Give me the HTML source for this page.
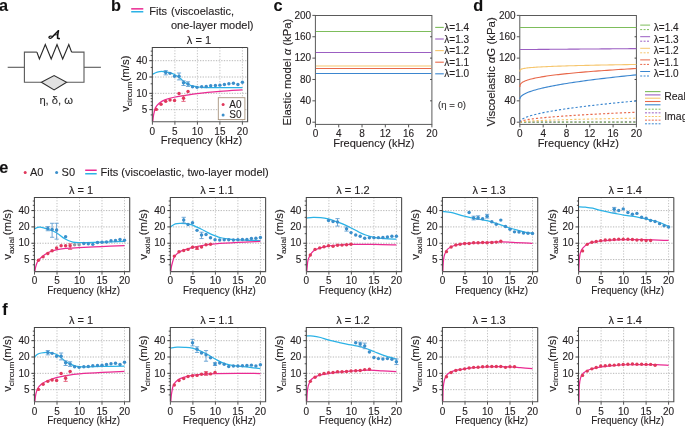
<!DOCTYPE html>
<html><head><meta charset="utf-8"><style>
html,body{margin:0;padding:0;background:#fff;}
body{width:685px;height:426px;overflow:hidden;}
svg{display:block;will-change:transform;}
text{stroke:#231f20;stroke-width:0.12px;stroke-linejoin:round;}
</style></head><body>
<svg width="685" height="426" viewBox="0 0 685 426">
<rect width="685" height="426" fill="#fff"/>
<text x="-0.90" y="11.10" text-anchor="start" fill="#111" style="font-size:16.3px;font-family:'Liberation Sans', sans-serif;font-weight:bold;" >a</text>
<text x="111.00" y="11.10" text-anchor="start" fill="#111" style="font-size:16.3px;font-family:'Liberation Sans', sans-serif;font-weight:bold;" >b</text>
<text x="273.50" y="11.20" text-anchor="start" fill="#111" style="font-size:16.3px;font-family:'Liberation Sans', sans-serif;font-weight:bold;" >c</text>
<text x="473.30" y="11.20" text-anchor="start" fill="#111" style="font-size:16.3px;font-family:'Liberation Sans', sans-serif;font-weight:bold;" >d</text>
<text x="-0.70" y="173.40" text-anchor="start" fill="#111" style="font-size:16.3px;font-family:'Liberation Sans', sans-serif;font-weight:bold;" >e</text>
<text x="2.30" y="315.10" text-anchor="start" fill="#111" style="font-size:16.3px;font-family:'Liberation Sans', sans-serif;font-weight:bold;" >f</text>
<polyline points="7.7,67.3 24.4,67.3" fill="none" stroke="#595959" stroke-width="1.1"/>
<polyline points="36.9,52.1 24.4,52.1 24.4,82.3 41.4,82.3" fill="none" stroke="#595959" stroke-width="1.1"/>
<polyline points="71.6,52.1 84.0,52.1 84.0,82.3 66.6,82.3" fill="none" stroke="#595959" stroke-width="1.1"/>
<polyline points="84.0,67.3 100.9,67.3" fill="none" stroke="#595959" stroke-width="1.1"/>
<polyline points="36.9,52.1 39.4,58.9 45.3,44.6 51.2,58.9 57.0,44.6 62.7,58.9 68.8,44.6 71.6,52.1" fill="none" stroke="#2a2a2a" stroke-width="1.15" stroke-linejoin="miter"/>
<polygon points="41.4,82.3 54.1,75.6 66.6,82.3 54.1,89.9" fill="#e2e2e2" stroke="#2f2f2f" stroke-width="1.1"/>
<g fill="none" stroke="#111" stroke-linecap="round"><path d="M52.6,36.6 C54.5,35 56.5,32.2 58.4,30.9" stroke-width="1.5"/><path d="M58.4,30.9 C57.8,33.5 57.3,36 57.6,38.2 L59.2,38.6" stroke-width="1.6"/><path d="M52.6,36.6 C51.5,35.7 49.2,35.8 48.9,37.2 C48.7,38.6 51.6,38.9 52.6,36.6" stroke-width="1.2"/><path d="M54.6,34.9 L57.7,34.7" stroke-width="0.9"/></g>
<text x="56.20" y="104.40" text-anchor="middle" fill="#333" style="font-size:11.2px;font-family:'Liberation Sans', sans-serif;" >η, δ, ω</text>
<rect x="131.2" y="8.1" width="12.1" height="1.5" fill="#ea2a92"/>
<rect x="131.2" y="11.0" width="12.1" height="1.5" fill="#2bb2e6"/>
<text x="149.30" y="14.90" text-anchor="start" fill="#231f20" style="font-size:11px;font-family:'Liberation Sans', sans-serif;" >Fits</text>
<text x="171.00" y="14.90" text-anchor="start" fill="#231f20" style="font-size:11px;font-family:'Liberation Sans', sans-serif;" >(viscoelastic,</text>
<text x="171.00" y="28.60" text-anchor="start" fill="#231f20" style="font-size:11px;font-family:'Liberation Sans', sans-serif;" >one-layer model)</text>
<line x1="152.30" y1="109.67" x2="247.60" y2="109.67" stroke="#b0b0b0" stroke-width="0.9" stroke-dasharray="1.3 1.35"/>
<line x1="152.30" y1="93.34" x2="247.60" y2="93.34" stroke="#b0b0b0" stroke-width="0.9" stroke-dasharray="1.3 1.35"/>
<line x1="152.30" y1="77.01" x2="247.60" y2="77.01" stroke="#b0b0b0" stroke-width="0.9" stroke-dasharray="1.3 1.35"/>
<line x1="152.30" y1="60.68" x2="247.60" y2="60.68" stroke="#b0b0b0" stroke-width="0.9" stroke-dasharray="1.3 1.35"/>
<line x1="174.90" y1="47.50" x2="174.90" y2="121.70" stroke="#bababa" stroke-width="0.9" stroke-dasharray="1.2 1.6"/>
<line x1="197.40" y1="47.50" x2="197.40" y2="121.70" stroke="#bababa" stroke-width="0.9" stroke-dasharray="1.2 1.6"/>
<line x1="219.90" y1="47.50" x2="219.90" y2="121.70" stroke="#bababa" stroke-width="0.9" stroke-dasharray="1.2 1.6"/>
<line x1="242.40" y1="47.50" x2="242.40" y2="121.70" stroke="#bababa" stroke-width="0.9" stroke-dasharray="1.2 1.6"/>
<path d="M152.40,74.30 C153.21,73.93 155.53,72.53 157.28,72.07 C159.03,71.60 161.03,71.44 162.90,71.51 C164.78,71.57 166.65,71.97 168.53,72.44 C170.40,72.91 172.28,73.37 174.15,74.30 C176.03,75.24 177.90,76.64 179.78,78.04 C181.65,79.44 183.53,81.46 185.40,82.70 C187.28,83.95 189.06,84.82 191.03,85.50 C192.99,86.19 195.03,86.47 197.21,86.81 C199.40,87.15 200.37,87.43 204.15,87.55 C207.93,87.68 213.53,87.55 219.90,87.55 C226.28,87.55 238.65,87.55 242.40,87.55" fill="none" stroke="#2bb2e6" stroke-width="1.25"/>
<path d="M152.78,121.52 C152.84,120.96 152.99,119.34 153.15,118.16 C153.31,116.98 153.34,116.14 153.71,114.43 C154.09,112.71 154.49,109.76 155.40,107.89 C156.31,106.03 157.59,104.57 159.15,103.23 C160.71,101.89 162.28,100.87 164.78,99.87 C167.28,98.87 170.71,98.00 174.15,97.26 C177.59,96.51 181.56,96.01 185.40,95.39 C189.24,94.77 191.46,94.21 197.21,93.53 C202.96,92.84 212.37,91.91 219.90,91.29 C227.43,90.66 238.65,90.04 242.40,89.79" fill="none" stroke="#ea2a92" stroke-width="1.25"/>
<line x1="165.71" y1="70.57" x2="165.71" y2="74.86" stroke="#5a9bd0" stroke-width="0.85" />
<line x1="163.61" y1="70.57" x2="167.81" y2="70.57" stroke="#5a9bd0" stroke-width="0.85" />
<line x1="163.61" y1="74.86" x2="167.81" y2="74.86" stroke="#5a9bd0" stroke-width="0.85" />
<line x1="179.03" y1="73.00" x2="179.03" y2="79.90" stroke="#5a9bd0" stroke-width="0.85" />
<line x1="176.93" y1="73.00" x2="181.12" y2="73.00" stroke="#5a9bd0" stroke-width="0.85" />
<line x1="176.93" y1="79.90" x2="181.12" y2="79.90" stroke="#5a9bd0" stroke-width="0.85" />
<line x1="183.53" y1="80.84" x2="183.53" y2="85.50" stroke="#5a9bd0" stroke-width="0.85" />
<line x1="181.43" y1="80.84" x2="185.62" y2="80.84" stroke="#5a9bd0" stroke-width="0.85" />
<line x1="181.43" y1="85.50" x2="185.62" y2="85.50" stroke="#5a9bd0" stroke-width="0.85" />
<line x1="188.03" y1="81.77" x2="188.03" y2="86.43" stroke="#5a9bd0" stroke-width="0.85" />
<line x1="185.93" y1="81.77" x2="190.12" y2="81.77" stroke="#5a9bd0" stroke-width="0.85" />
<line x1="185.93" y1="86.43" x2="190.12" y2="86.43" stroke="#5a9bd0" stroke-width="0.85" />
<line x1="183.53" y1="95.76" x2="183.53" y2="101.36" stroke="#e2506e" stroke-width="0.85" />
<line x1="181.43" y1="95.76" x2="185.62" y2="95.76" stroke="#e2506e" stroke-width="0.85" />
<line x1="181.43" y1="101.36" x2="185.62" y2="101.36" stroke="#e2506e" stroke-width="0.85" />
<circle cx="165.71" cy="72.44" r="1.72" fill="#3b8fcb"/>
<circle cx="170.03" cy="73.37" r="1.72" fill="#3b8fcb"/>
<circle cx="174.53" cy="76.17" r="1.72" fill="#3b8fcb"/>
<circle cx="179.03" cy="76.17" r="1.72" fill="#3b8fcb"/>
<circle cx="183.53" cy="82.70" r="1.72" fill="#3b8fcb"/>
<circle cx="188.03" cy="84.01" r="1.72" fill="#3b8fcb"/>
<circle cx="192.53" cy="86.81" r="1.72" fill="#3b8fcb"/>
<circle cx="197.03" cy="87.37" r="1.72" fill="#3b8fcb"/>
<circle cx="201.71" cy="86.81" r="1.72" fill="#3b8fcb"/>
<circle cx="206.21" cy="86.43" r="1.72" fill="#3b8fcb"/>
<circle cx="210.71" cy="85.69" r="1.72" fill="#3b8fcb"/>
<circle cx="215.40" cy="85.50" r="1.72" fill="#3b8fcb"/>
<circle cx="219.90" cy="85.13" r="1.72" fill="#3b8fcb"/>
<circle cx="224.40" cy="84.57" r="1.72" fill="#3b8fcb"/>
<circle cx="228.90" cy="83.82" r="1.72" fill="#3b8fcb"/>
<circle cx="233.40" cy="83.26" r="1.72" fill="#3b8fcb"/>
<circle cx="237.90" cy="84.57" r="1.72" fill="#3b8fcb"/>
<circle cx="242.40" cy="82.33" r="1.72" fill="#3b8fcb"/>
<circle cx="156.34" cy="109.39" r="1.72" fill="#e0385c"/>
<circle cx="161.03" cy="104.16" r="1.72" fill="#e0385c"/>
<circle cx="165.71" cy="101.36" r="1.72" fill="#e0385c"/>
<circle cx="170.03" cy="100.06" r="1.72" fill="#e0385c"/>
<circle cx="174.53" cy="100.43" r="1.72" fill="#e0385c"/>
<circle cx="179.03" cy="93.53" r="1.72" fill="#e0385c"/>
<circle cx="183.53" cy="98.19" r="1.72" fill="#e0385c"/>
<circle cx="188.03" cy="91.47" r="1.72" fill="#e0385c"/>
<path d="M152.30,121.70 L152.30,47.50 L247.60,47.50" fill="none" stroke="#444" stroke-width="1.05"/>
<path d="M152.30,121.70 L247.60,121.70 L247.60,47.50" fill="none" stroke="#555" stroke-width="1.15"/>
<line x1="149.30" y1="109.67" x2="152.30" y2="109.67" stroke="#3a3a3a" stroke-width="1.0" />
<text x="147.40" y="112.87" text-anchor="end" fill="#231f20" style="font-size:10px;font-family:'Liberation Sans', sans-serif;" >5</text>
<line x1="149.30" y1="93.34" x2="152.30" y2="93.34" stroke="#3a3a3a" stroke-width="1.0" />
<text x="147.40" y="96.54" text-anchor="end" fill="#231f20" style="font-size:10px;font-family:'Liberation Sans', sans-serif;" >10</text>
<line x1="149.30" y1="77.01" x2="152.30" y2="77.01" stroke="#3a3a3a" stroke-width="1.0" />
<text x="147.40" y="80.21" text-anchor="end" fill="#231f20" style="font-size:10px;font-family:'Liberation Sans', sans-serif;" >20</text>
<line x1="149.30" y1="60.68" x2="152.30" y2="60.68" stroke="#3a3a3a" stroke-width="1.0" />
<text x="147.40" y="63.88" text-anchor="end" fill="#231f20" style="font-size:10px;font-family:'Liberation Sans', sans-serif;" >40</text>
<line x1="150.70" y1="114.92" x2="152.30" y2="114.92" stroke="#3a3a3a" stroke-width="0.9" />
<line x1="150.70" y1="105.37" x2="152.30" y2="105.37" stroke="#3a3a3a" stroke-width="0.9" />
<line x1="150.70" y1="101.74" x2="152.30" y2="101.74" stroke="#3a3a3a" stroke-width="0.9" />
<line x1="150.70" y1="98.60" x2="152.30" y2="98.60" stroke="#3a3a3a" stroke-width="0.9" />
<line x1="150.70" y1="95.82" x2="152.30" y2="95.82" stroke="#3a3a3a" stroke-width="0.9" />
<line x1="150.70" y1="83.79" x2="152.30" y2="83.79" stroke="#3a3a3a" stroke-width="0.9" />
<line x1="150.70" y1="67.46" x2="152.30" y2="67.46" stroke="#3a3a3a" stroke-width="0.9" />
<line x1="150.70" y1="55.43" x2="152.30" y2="55.43" stroke="#3a3a3a" stroke-width="0.9" />
<line x1="150.70" y1="51.13" x2="152.30" y2="51.13" stroke="#3a3a3a" stroke-width="0.9" />
<line x1="152.40" y1="121.70" x2="152.40" y2="124.70" stroke="#555" stroke-width="1.0" />
<text x="152.40" y="134.50" text-anchor="middle" fill="#231f20" style="font-size:10px;font-family:'Liberation Sans', sans-serif;" >0</text>
<line x1="174.90" y1="121.70" x2="174.90" y2="124.70" stroke="#555" stroke-width="1.0" />
<text x="174.90" y="134.50" text-anchor="middle" fill="#231f20" style="font-size:10px;font-family:'Liberation Sans', sans-serif;" >5</text>
<line x1="197.40" y1="121.70" x2="197.40" y2="124.70" stroke="#555" stroke-width="1.0" />
<text x="197.40" y="134.50" text-anchor="middle" fill="#231f20" style="font-size:10px;font-family:'Liberation Sans', sans-serif;" >10</text>
<line x1="219.90" y1="121.70" x2="219.90" y2="124.70" stroke="#555" stroke-width="1.0" />
<text x="219.90" y="134.50" text-anchor="middle" fill="#231f20" style="font-size:10px;font-family:'Liberation Sans', sans-serif;" >15</text>
<line x1="242.40" y1="121.70" x2="242.40" y2="124.70" stroke="#555" stroke-width="1.0" />
<text x="242.40" y="134.50" text-anchor="middle" fill="#231f20" style="font-size:10px;font-family:'Liberation Sans', sans-serif;" >20</text>
<text x="201.45" y="144.10" text-anchor="middle" fill="#231f20" style="font-size:11px;font-family:'Liberation Sans', sans-serif;" >Frequency (kHz)</text>
<text transform="translate(129.30,83.70) rotate(-90) scale(1.1,1)" x="0" y="0" text-anchor="middle" fill="#231f20" style="font-size:10.4px;font-family:'Liberation Sans', sans-serif;">v<tspan dy="2.6" style="font-size:7.6px">circum</tspan><tspan dy="-2.6" dx="0">(m/s)</tspan></text>
<text x="198.95" y="44.00" text-anchor="middle" fill="#231f20" style="font-size:11px;font-family:'Liberation Sans', sans-serif;" >λ = 1</text>
<rect x="218.3" y="97.7" width="26.6" height="21.9" fill="#fff" stroke="#a8947f" stroke-width="0.9"/>
<circle cx="223.1" cy="104.6" r="1.5" fill="#e0385c"/>
<circle cx="223.1" cy="114.9" r="1.5" fill="#3b8fcb"/>
<text x="229.30" y="107.60" text-anchor="start" fill="#231f20" style="font-size:10px;font-family:'Liberation Sans', sans-serif;" >A0</text>
<text x="229.30" y="118.00" text-anchor="start" fill="#231f20" style="font-size:10px;font-family:'Liberation Sans', sans-serif;" >S0</text>
<rect x="315.4" y="15.5" width="116.5" height="108.9" fill="none" stroke="#5a5a5a" stroke-width="1"/>
<line x1="312.40" y1="122.20" x2="315.40" y2="122.20" stroke="#555" stroke-width="1.0" />
<text x="311.20" y="125.40" text-anchor="end" fill="#231f20" style="font-size:10px;font-family:'Liberation Sans', sans-serif;" >0</text>
<line x1="312.40" y1="100.84" x2="315.40" y2="100.84" stroke="#555" stroke-width="1.0" />
<line x1="430.10" y1="100.84" x2="431.90" y2="100.84" stroke="#444" stroke-width="1.0" />
<text x="311.20" y="104.04" text-anchor="end" fill="#231f20" style="font-size:10px;font-family:'Liberation Sans', sans-serif;" >40</text>
<line x1="312.40" y1="79.48" x2="315.40" y2="79.48" stroke="#555" stroke-width="1.0" />
<line x1="430.10" y1="79.48" x2="431.90" y2="79.48" stroke="#444" stroke-width="1.0" />
<text x="311.20" y="82.68" text-anchor="end" fill="#231f20" style="font-size:10px;font-family:'Liberation Sans', sans-serif;" >80</text>
<line x1="312.40" y1="58.12" x2="315.40" y2="58.12" stroke="#555" stroke-width="1.0" />
<line x1="430.10" y1="58.12" x2="431.90" y2="58.12" stroke="#444" stroke-width="1.0" />
<text x="311.20" y="61.32" text-anchor="end" fill="#231f20" style="font-size:10px;font-family:'Liberation Sans', sans-serif;" >120</text>
<line x1="312.40" y1="36.76" x2="315.40" y2="36.76" stroke="#555" stroke-width="1.0" />
<line x1="430.10" y1="36.76" x2="431.90" y2="36.76" stroke="#444" stroke-width="1.0" />
<text x="311.20" y="39.96" text-anchor="end" fill="#231f20" style="font-size:10px;font-family:'Liberation Sans', sans-serif;" >160</text>
<line x1="312.40" y1="15.40" x2="315.40" y2="15.40" stroke="#555" stroke-width="1.0" />
<text x="311.20" y="18.60" text-anchor="end" fill="#231f20" style="font-size:10px;font-family:'Liberation Sans', sans-serif;" >200</text>
<line x1="315.45" y1="124.40" x2="315.45" y2="127.40" stroke="#555" stroke-width="1.0" />
<text x="315.45" y="136.60" text-anchor="middle" fill="#231f20" style="font-size:10px;font-family:'Liberation Sans', sans-serif;" >0</text>
<line x1="338.74" y1="124.40" x2="338.74" y2="127.40" stroke="#555" stroke-width="1.0" />
<text x="338.74" y="136.60" text-anchor="middle" fill="#231f20" style="font-size:10px;font-family:'Liberation Sans', sans-serif;" >4</text>
<line x1="362.03" y1="124.40" x2="362.03" y2="127.40" stroke="#555" stroke-width="1.0" />
<text x="362.03" y="136.60" text-anchor="middle" fill="#231f20" style="font-size:10px;font-family:'Liberation Sans', sans-serif;" >8</text>
<line x1="385.32" y1="124.40" x2="385.32" y2="127.40" stroke="#555" stroke-width="1.0" />
<text x="385.32" y="136.60" text-anchor="middle" fill="#231f20" style="font-size:10px;font-family:'Liberation Sans', sans-serif;" >12</text>
<line x1="408.61" y1="124.40" x2="408.61" y2="127.40" stroke="#555" stroke-width="1.0" />
<text x="408.61" y="136.60" text-anchor="middle" fill="#231f20" style="font-size:10px;font-family:'Liberation Sans', sans-serif;" >16</text>
<line x1="431.90" y1="124.40" x2="431.90" y2="127.40" stroke="#555" stroke-width="1.0" />
<text x="431.90" y="136.60" text-anchor="middle" fill="#231f20" style="font-size:10px;font-family:'Liberation Sans', sans-serif;" >20</text>
<text x="373.85" y="147.20" text-anchor="middle" fill="#231f20" style="font-size:11px;font-family:'Liberation Sans', sans-serif;" >Frequency (kHz)</text>
<line x1="315.90" y1="31.50" x2="431.30" y2="31.50" stroke="#7dbd5b" stroke-width="1.1" />
<line x1="315.90" y1="52.50" x2="431.30" y2="52.50" stroke="#9b5ec2" stroke-width="1.1" />
<line x1="315.90" y1="66.00" x2="431.30" y2="66.00" stroke="#f6c66e" stroke-width="1.1" />
<line x1="315.90" y1="68.50" x2="431.30" y2="68.50" stroke="#e8684a" stroke-width="1.1" />
<line x1="315.90" y1="73.50" x2="431.30" y2="73.50" stroke="#3b86cf" stroke-width="1.1" />
<text transform="translate(290.8,72.1) rotate(-90) scale(1.085,1)" text-anchor="middle" fill="#231f20" style="font-size:10.4px;font-family:'Liberation Sans', sans-serif;">Elastic model <tspan style="font-style:italic">α</tspan> (kPa)</text>
<line x1="435.20" y1="27.40" x2="443.80" y2="27.40" stroke="#7dbd5b" stroke-width="1.1" />
<text x="444.30" y="31.00" text-anchor="start" fill="#231f20" style="font-size:10px;font-family:'Liberation Sans', sans-serif;" >λ=1.4</text>
<line x1="435.20" y1="39.00" x2="443.80" y2="39.00" stroke="#9b5ec2" stroke-width="1.1" />
<text x="444.30" y="42.60" text-anchor="start" fill="#231f20" style="font-size:10px;font-family:'Liberation Sans', sans-serif;" >λ=1.3</text>
<line x1="435.20" y1="50.60" x2="443.80" y2="50.60" stroke="#f6c66e" stroke-width="1.1" />
<text x="444.30" y="54.20" text-anchor="start" fill="#231f20" style="font-size:10px;font-family:'Liberation Sans', sans-serif;" >λ=1.2</text>
<line x1="435.20" y1="62.20" x2="443.80" y2="62.20" stroke="#e8684a" stroke-width="1.1" />
<text x="444.30" y="65.80" text-anchor="start" fill="#231f20" style="font-size:10px;font-family:'Liberation Sans', sans-serif;" >λ=1.1</text>
<line x1="435.20" y1="73.80" x2="443.80" y2="73.80" stroke="#3b86cf" stroke-width="1.1" />
<text x="444.30" y="77.40" text-anchor="start" fill="#231f20" style="font-size:10px;font-family:'Liberation Sans', sans-serif;" >λ=1.0</text>
<text x="438.00" y="108.40" text-anchor="start" fill="#3a3a3a" style="font-size:9.6px;font-family:'Liberation Sans', sans-serif;" >(η = 0)</text>
<rect x="519.8" y="15.5" width="116.60000000000002" height="108.9" fill="none" stroke="#5a5a5a" stroke-width="1"/>
<line x1="516.80" y1="122.20" x2="519.80" y2="122.20" stroke="#555" stroke-width="1.0" />
<text x="515.60" y="125.40" text-anchor="end" fill="#231f20" style="font-size:10px;font-family:'Liberation Sans', sans-serif;" >0</text>
<line x1="516.80" y1="100.84" x2="519.80" y2="100.84" stroke="#555" stroke-width="1.0" />
<line x1="634.60" y1="100.84" x2="636.40" y2="100.84" stroke="#444" stroke-width="1.0" />
<text x="515.60" y="104.04" text-anchor="end" fill="#231f20" style="font-size:10px;font-family:'Liberation Sans', sans-serif;" >40</text>
<line x1="516.80" y1="79.48" x2="519.80" y2="79.48" stroke="#555" stroke-width="1.0" />
<line x1="634.60" y1="79.48" x2="636.40" y2="79.48" stroke="#444" stroke-width="1.0" />
<text x="515.60" y="82.68" text-anchor="end" fill="#231f20" style="font-size:10px;font-family:'Liberation Sans', sans-serif;" >80</text>
<line x1="516.80" y1="58.12" x2="519.80" y2="58.12" stroke="#555" stroke-width="1.0" />
<line x1="634.60" y1="58.12" x2="636.40" y2="58.12" stroke="#444" stroke-width="1.0" />
<text x="515.60" y="61.32" text-anchor="end" fill="#231f20" style="font-size:10px;font-family:'Liberation Sans', sans-serif;" >120</text>
<line x1="516.80" y1="36.76" x2="519.80" y2="36.76" stroke="#555" stroke-width="1.0" />
<line x1="634.60" y1="36.76" x2="636.40" y2="36.76" stroke="#444" stroke-width="1.0" />
<text x="515.60" y="39.96" text-anchor="end" fill="#231f20" style="font-size:10px;font-family:'Liberation Sans', sans-serif;" >160</text>
<line x1="516.80" y1="15.40" x2="519.80" y2="15.40" stroke="#555" stroke-width="1.0" />
<text x="515.60" y="18.60" text-anchor="end" fill="#231f20" style="font-size:10px;font-family:'Liberation Sans', sans-serif;" >200</text>
<line x1="519.85" y1="124.40" x2="519.85" y2="127.40" stroke="#555" stroke-width="1.0" />
<text x="519.85" y="136.60" text-anchor="middle" fill="#231f20" style="font-size:10px;font-family:'Liberation Sans', sans-serif;" >0</text>
<line x1="543.16" y1="124.40" x2="543.16" y2="127.40" stroke="#555" stroke-width="1.0" />
<text x="543.16" y="136.60" text-anchor="middle" fill="#231f20" style="font-size:10px;font-family:'Liberation Sans', sans-serif;" >4</text>
<line x1="566.47" y1="124.40" x2="566.47" y2="127.40" stroke="#555" stroke-width="1.0" />
<text x="566.47" y="136.60" text-anchor="middle" fill="#231f20" style="font-size:10px;font-family:'Liberation Sans', sans-serif;" >8</text>
<line x1="589.78" y1="124.40" x2="589.78" y2="127.40" stroke="#555" stroke-width="1.0" />
<text x="589.78" y="136.60" text-anchor="middle" fill="#231f20" style="font-size:10px;font-family:'Liberation Sans', sans-serif;" >12</text>
<line x1="613.09" y1="124.40" x2="613.09" y2="127.40" stroke="#555" stroke-width="1.0" />
<text x="613.09" y="136.60" text-anchor="middle" fill="#231f20" style="font-size:10px;font-family:'Liberation Sans', sans-serif;" >16</text>
<line x1="636.40" y1="124.40" x2="636.40" y2="127.40" stroke="#555" stroke-width="1.0" />
<text x="636.40" y="136.60" text-anchor="middle" fill="#231f20" style="font-size:10px;font-family:'Liberation Sans', sans-serif;" >20</text>
<text x="578.30" y="147.20" text-anchor="middle" fill="#231f20" style="font-size:11px;font-family:'Liberation Sans', sans-serif;" >Frequency (kHz)</text>
<path d="M519.85,122.20 L520.02,122.19 L520.35,122.18 L520.82,122.18 L521.38,122.17 L522.04,122.16 L522.78,122.16 L523.60,122.15 L524.49,122.15 L525.45,122.14 L526.48,122.14 L527.57,122.13 L528.72,122.13 L529.94,122.12 L531.21,122.12 L532.53,122.11 L533.91,122.11 L535.34,122.10 L536.83,122.10 L538.36,122.09 L539.95,122.09 L541.58,122.08 L543.26,122.08 L544.98,122.08 L546.75,122.07 L548.57,122.07 L550.43,122.06 L552.33,122.06 L554.28,122.05 L556.27,122.05 L558.30,122.05 L560.37,122.04 L562.48,122.04 L564.63,122.03 L566.82,122.03 L569.05,122.03 L571.32,122.02 L573.63,122.02 L575.97,122.01 L578.35,122.01 L580.77,122.01 L583.23,122.00 L585.72,122.00 L588.24,122.00 L590.81,121.99 L593.40,121.99 L596.04,121.98 L598.70,121.98 L601.41,121.98 L604.14,121.97 L606.91,121.97 L609.71,121.97 L612.55,121.96 L615.42,121.96 L618.32,121.95 L621.25,121.95 L624.22,121.95 L627.22,121.94 L630.25,121.94 L633.31,121.94 L636.40,121.93" fill="none" stroke="#9b5ec2" stroke-width="1.15" stroke-dasharray="2.2 2"/>
<path d="M519.85,122.20 L520.02,122.20 L520.35,122.19 L520.82,122.19 L521.38,122.19 L522.04,122.19 L522.78,122.18 L523.60,122.18 L524.49,122.18 L525.45,122.18 L526.48,122.17 L527.57,122.17 L528.72,122.17 L529.94,122.17 L531.21,122.17 L532.53,122.16 L533.91,122.16 L535.34,122.16 L536.83,122.16 L538.36,122.16 L539.95,122.16 L541.58,122.15 L543.26,122.15 L544.98,122.15 L546.75,122.15 L548.57,122.15 L550.43,122.15 L552.33,122.14 L554.28,122.14 L556.27,122.14 L558.30,122.14 L560.37,122.14 L562.48,122.14 L564.63,122.13 L566.82,122.13 L569.05,122.13 L571.32,122.13 L573.63,122.13 L575.97,122.13 L578.35,122.12 L580.77,122.12 L583.23,122.12 L585.72,122.12 L588.24,122.12 L590.81,122.12 L593.40,122.12 L596.04,122.11 L598.70,122.11 L601.41,122.11 L604.14,122.11 L606.91,122.11 L609.71,122.11 L612.55,122.10 L615.42,122.10 L618.32,122.10 L621.25,122.10 L624.22,122.10 L627.22,122.10 L630.25,122.10 L633.31,122.09 L636.40,122.09" fill="none" stroke="#7dbd5b" stroke-width="1.15" stroke-dasharray="2.2 2"/>
<path d="M519.85,122.20 L520.02,122.05 L520.35,121.93 L520.82,121.83 L521.38,121.73 L522.04,121.64 L522.78,121.56 L523.60,121.47 L524.49,121.39 L525.45,121.31 L526.48,121.23 L527.57,121.16 L528.72,121.08 L529.94,121.01 L531.21,120.93 L532.53,120.86 L533.91,120.79 L535.34,120.72 L536.83,120.65 L538.36,120.58 L539.95,120.51 L541.58,120.45 L543.26,120.38 L544.98,120.32 L546.75,120.25 L548.57,120.19 L550.43,120.12 L552.33,120.06 L554.28,119.99 L556.27,119.93 L558.30,119.87 L560.37,119.81 L562.48,119.75 L564.63,119.68 L566.82,119.62 L569.05,119.56 L571.32,119.50 L573.63,119.44 L575.97,119.38 L578.35,119.32 L580.77,119.27 L583.23,119.21 L585.72,119.15 L588.24,119.09 L590.81,119.03 L593.40,118.98 L596.04,118.92 L598.70,118.86 L601.41,118.81 L604.14,118.75 L606.91,118.69 L609.71,118.64 L612.55,118.58 L615.42,118.53 L618.32,118.47 L621.25,118.41 L624.22,118.36 L627.22,118.30 L630.25,118.25 L633.31,118.20 L636.40,118.14" fill="none" stroke="#f6c66e" stroke-width="1.15" stroke-dasharray="2.2 2"/>
<path d="M519.85,122.20 L520.02,121.82 L520.35,121.54 L520.82,121.29 L521.38,121.06 L522.04,120.83 L522.78,120.62 L523.60,120.41 L524.49,120.21 L525.45,120.01 L526.48,119.82 L527.57,119.63 L528.72,119.44 L529.94,119.26 L531.21,119.08 L532.53,118.91 L533.91,118.73 L535.34,118.56 L536.83,118.39 L538.36,118.22 L539.95,118.05 L541.58,117.89 L543.26,117.72 L544.98,117.56 L546.75,117.40 L548.57,117.24 L550.43,117.09 L552.33,116.93 L554.28,116.77 L556.27,116.62 L558.30,116.46 L560.37,116.31 L562.48,116.16 L564.63,116.01 L566.82,115.86 L569.05,115.71 L571.32,115.56 L573.63,115.42 L575.97,115.27 L578.35,115.13 L580.77,114.98 L583.23,114.84 L585.72,114.69 L588.24,114.55 L590.81,114.41 L593.40,114.27 L596.04,114.13 L598.70,113.99 L601.41,113.85 L604.14,113.71 L606.91,113.57 L609.71,113.43 L612.55,113.29 L615.42,113.16 L618.32,113.02 L621.25,112.89 L624.22,112.75 L627.22,112.62 L630.25,112.48 L633.31,112.35 L636.40,112.21" fill="none" stroke="#e8684a" stroke-width="1.15" stroke-dasharray="2.2 2"/>
<path d="M519.85,122.20 L520.02,121.40 L520.35,120.80 L520.82,120.27 L521.38,119.76 L522.04,119.29 L522.78,118.83 L523.60,118.39 L524.49,117.96 L525.45,117.54 L526.48,117.13 L527.57,116.73 L528.72,116.33 L529.94,115.95 L531.21,115.57 L532.53,115.19 L533.91,114.82 L535.34,114.45 L536.83,114.09 L538.36,113.73 L539.95,113.37 L541.58,113.02 L543.26,112.68 L544.98,112.33 L546.75,111.99 L548.57,111.65 L550.43,111.31 L552.33,110.98 L554.28,110.65 L556.27,110.32 L558.30,109.99 L560.37,109.67 L562.48,109.35 L564.63,109.03 L566.82,108.71 L569.05,108.39 L571.32,108.08 L573.63,107.76 L575.97,107.45 L578.35,107.14 L580.77,106.83 L583.23,106.53 L585.72,106.22 L588.24,105.92 L590.81,105.62 L593.40,105.32 L596.04,105.02 L598.70,104.72 L601.41,104.42 L604.14,104.12 L606.91,103.83 L609.71,103.54 L612.55,103.24 L615.42,102.95 L618.32,102.66 L621.25,102.37 L624.22,102.09 L627.22,101.80 L630.25,101.51 L633.31,101.23 L636.40,100.95" fill="none" stroke="#3b86cf" stroke-width="1.15" stroke-dasharray="2.2 2"/>
<path d="M519.85,27.52 L520.02,27.52 L520.35,27.52 L520.82,27.52 L521.38,27.52 L522.04,27.52 L522.78,27.52 L523.60,27.52 L524.49,27.52 L525.45,27.52 L526.48,27.52 L527.57,27.52 L528.72,27.52 L529.94,27.52 L531.21,27.52 L532.53,27.52 L533.91,27.52 L535.34,27.52 L536.83,27.52 L538.36,27.52 L539.95,27.52 L541.58,27.52 L543.26,27.52 L544.98,27.52 L546.75,27.52 L548.57,27.52 L550.43,27.52 L552.33,27.52 L554.28,27.52 L556.27,27.52 L558.30,27.52 L560.37,27.52 L562.48,27.52 L564.63,27.52 L566.82,27.52 L569.05,27.52 L571.32,27.52 L573.63,27.52 L575.97,27.52 L578.35,27.52 L580.77,27.52 L583.23,27.52 L585.72,27.52 L588.24,27.52 L590.81,27.52 L593.40,27.52 L596.04,27.52 L598.70,27.52 L601.41,27.52 L604.14,27.52 L606.91,27.52 L609.71,27.52 L612.55,27.52 L615.42,27.52 L618.32,27.52 L621.25,27.52 L624.22,27.52 L627.22,27.52 L630.25,27.52 L633.31,27.52 L636.40,27.52" fill="none" stroke="#7dbd5b" stroke-width="1.1"/>
<path d="M519.85,49.58 L520.02,49.57 L520.35,49.57 L520.82,49.57 L521.38,49.56 L522.04,49.56 L522.78,49.55 L523.60,49.55 L524.49,49.54 L525.45,49.53 L526.48,49.52 L527.57,49.51 L528.72,49.50 L529.94,49.49 L531.21,49.48 L532.53,49.47 L533.91,49.46 L535.34,49.45 L536.83,49.44 L538.36,49.42 L539.95,49.41 L541.58,49.40 L543.26,49.38 L544.98,49.37 L546.75,49.35 L548.57,49.34 L550.43,49.32 L552.33,49.31 L554.28,49.29 L556.27,49.28 L558.30,49.26 L560.37,49.24 L562.48,49.22 L564.63,49.21 L566.82,49.19 L569.05,49.17 L571.32,49.15 L573.63,49.13 L575.97,49.11 L578.35,49.09 L580.77,49.07 L583.23,49.05 L585.72,49.03 L588.24,49.01 L590.81,48.99 L593.40,48.97 L596.04,48.95 L598.70,48.93 L601.41,48.90 L604.14,48.88 L606.91,48.86 L609.71,48.83 L612.55,48.81 L615.42,48.79 L618.32,48.76 L621.25,48.74 L624.22,48.72 L627.22,48.69 L630.25,48.67 L633.31,48.64 L636.40,48.61" fill="none" stroke="#9b5ec2" stroke-width="1.1"/>
<path d="M519.85,71.58 L520.02,70.15 L520.35,69.70 L520.82,69.38 L521.38,69.11 L522.04,68.89 L522.78,68.69 L523.60,68.51 L524.49,68.34 L525.45,68.19 L526.48,68.05 L527.57,67.92 L528.72,67.79 L529.94,67.67 L531.21,67.55 L532.53,67.44 L533.91,67.34 L535.34,67.23 L536.83,67.14 L538.36,67.04 L539.95,66.95 L541.58,66.86 L543.26,66.77 L544.98,66.69 L546.75,66.61 L548.57,66.53 L550.43,66.45 L552.33,66.37 L554.28,66.30 L556.27,66.22 L558.30,66.15 L560.37,66.08 L562.48,66.01 L564.63,65.94 L566.82,65.88 L569.05,65.81 L571.32,65.75 L573.63,65.69 L575.97,65.62 L578.35,65.56 L580.77,65.50 L583.23,65.44 L585.72,65.39 L588.24,65.33 L590.81,65.27 L593.40,65.22 L596.04,65.16 L598.70,65.11 L601.41,65.05 L604.14,65.00 L606.91,64.95 L609.71,64.90 L612.55,64.85 L615.42,64.79 L618.32,64.74 L621.25,64.70 L624.22,64.65 L627.22,64.60 L630.25,64.55 L633.31,64.50 L636.40,64.46" fill="none" stroke="#f6c66e" stroke-width="1.1"/>
<path d="M519.85,87.01 L520.02,85.26 L520.35,84.40 L520.82,83.71 L521.38,83.12 L522.04,82.58 L522.78,82.09 L523.60,81.63 L524.49,81.20 L525.45,80.80 L526.48,80.41 L527.57,80.04 L528.72,79.68 L529.94,79.33 L531.21,79.00 L532.53,78.67 L533.91,78.36 L535.34,78.05 L536.83,77.75 L538.36,77.46 L539.95,77.17 L541.58,76.89 L543.26,76.61 L544.98,76.35 L546.75,76.08 L548.57,75.82 L550.43,75.56 L552.33,75.31 L554.28,75.07 L556.27,74.82 L558.30,74.58 L560.37,74.34 L562.48,74.11 L564.63,73.88 L566.82,73.65 L569.05,73.43 L571.32,73.21 L573.63,72.99 L575.97,72.77 L578.35,72.55 L580.77,72.34 L583.23,72.13 L585.72,71.92 L588.24,71.72 L590.81,71.51 L593.40,71.31 L596.04,71.11 L598.70,70.91 L601.41,70.72 L604.14,70.52 L606.91,70.33 L609.71,70.14 L612.55,69.95 L615.42,69.76 L618.32,69.57 L621.25,69.39 L624.22,69.20 L627.22,69.02 L630.25,68.84 L633.31,68.66 L636.40,68.48" fill="none" stroke="#e8684a" stroke-width="1.1"/>
<path d="M519.85,99.13 L520.02,98.08 L520.35,97.35 L520.82,96.70 L521.38,96.10 L522.04,95.53 L522.78,94.99 L523.60,94.47 L524.49,93.96 L525.45,93.47 L526.48,93.00 L527.57,92.53 L528.72,92.07 L529.94,91.63 L531.21,91.19 L532.53,90.75 L533.91,90.33 L535.34,89.91 L536.83,89.50 L538.36,89.09 L539.95,88.68 L541.58,88.28 L543.26,87.89 L544.98,87.50 L546.75,87.11 L548.57,86.73 L550.43,86.35 L552.33,85.98 L554.28,85.60 L556.27,85.23 L558.30,84.87 L560.37,84.50 L562.48,84.14 L564.63,83.78 L566.82,83.43 L569.05,83.07 L571.32,82.72 L573.63,82.37 L575.97,82.03 L578.35,81.68 L580.77,81.34 L583.23,81.00 L585.72,80.66 L588.24,80.32 L590.81,79.99 L593.40,79.65 L596.04,79.32 L598.70,78.99 L601.41,78.67 L604.14,78.34 L606.91,78.01 L609.71,77.69 L612.55,77.37 L615.42,77.05 L618.32,76.73 L621.25,76.41 L624.22,76.09 L627.22,75.78 L630.25,75.46 L633.31,75.15 L636.40,74.84" fill="none" stroke="#3b86cf" stroke-width="1.1"/>
<text transform="translate(495.3,71.9) rotate(-90) scale(1.1,1)" text-anchor="middle" fill="#231f20" style="font-size:10.4px;font-family:'Liberation Sans', sans-serif;">Viscoelastic <tspan style="font-style:italic">α</tspan>G (kPa)</text>
<line x1="640.20" y1="25.10" x2="650.10" y2="25.10" stroke="#7dbd5b" stroke-width="1.0" />
<line x1="640.20" y1="29.60" x2="650.10" y2="29.60" stroke="#7dbd5b" stroke-width="1.0" stroke-dasharray="2 1.4"/>
<text x="653.80" y="31.00" text-anchor="start" fill="#231f20" style="font-size:10px;font-family:'Liberation Sans', sans-serif;" >λ=1.4</text>
<line x1="640.20" y1="36.70" x2="650.10" y2="36.70" stroke="#9b5ec2" stroke-width="1.0" />
<line x1="640.20" y1="41.20" x2="650.10" y2="41.20" stroke="#9b5ec2" stroke-width="1.0" stroke-dasharray="2 1.4"/>
<text x="653.80" y="42.60" text-anchor="start" fill="#231f20" style="font-size:10px;font-family:'Liberation Sans', sans-serif;" >λ=1.3</text>
<line x1="640.20" y1="48.30" x2="650.10" y2="48.30" stroke="#f6c66e" stroke-width="1.0" />
<line x1="640.20" y1="52.80" x2="650.10" y2="52.80" stroke="#f6c66e" stroke-width="1.0" stroke-dasharray="2 1.4"/>
<text x="653.80" y="54.20" text-anchor="start" fill="#231f20" style="font-size:10px;font-family:'Liberation Sans', sans-serif;" >λ=1.2</text>
<line x1="640.20" y1="59.90" x2="650.10" y2="59.90" stroke="#e8684a" stroke-width="1.0" />
<line x1="640.20" y1="64.40" x2="650.10" y2="64.40" stroke="#e8684a" stroke-width="1.0" stroke-dasharray="2 1.4"/>
<text x="653.80" y="65.80" text-anchor="start" fill="#231f20" style="font-size:10px;font-family:'Liberation Sans', sans-serif;" >λ=1.1</text>
<line x1="640.20" y1="71.50" x2="650.10" y2="71.50" stroke="#3b86cf" stroke-width="1.0" />
<line x1="640.20" y1="76.00" x2="650.10" y2="76.00" stroke="#3b86cf" stroke-width="1.0" stroke-dasharray="2 1.4"/>
<text x="653.80" y="77.40" text-anchor="start" fill="#231f20" style="font-size:10px;font-family:'Liberation Sans', sans-serif;" >λ=1.0</text>
<line x1="645.00" y1="91.60" x2="660.50" y2="91.60" stroke="#7dbd5b" stroke-width="1.1" />
<line x1="645.00" y1="109.20" x2="660.50" y2="109.20" stroke="#7dbd5b" stroke-width="1.0" stroke-dasharray="2 1.4"/>
<line x1="645.00" y1="94.90" x2="660.50" y2="94.90" stroke="#9b5ec2" stroke-width="1.1" />
<line x1="645.00" y1="112.85" x2="660.50" y2="112.85" stroke="#9b5ec2" stroke-width="1.0" stroke-dasharray="2 1.4"/>
<line x1="645.00" y1="98.20" x2="660.50" y2="98.20" stroke="#f6c66e" stroke-width="1.1" />
<line x1="645.00" y1="116.50" x2="660.50" y2="116.50" stroke="#f6c66e" stroke-width="1.0" stroke-dasharray="2 1.4"/>
<line x1="645.00" y1="101.50" x2="660.50" y2="101.50" stroke="#e8684a" stroke-width="1.1" />
<line x1="645.00" y1="120.15" x2="660.50" y2="120.15" stroke="#e8684a" stroke-width="1.0" stroke-dasharray="2 1.4"/>
<line x1="645.00" y1="104.80" x2="660.50" y2="104.80" stroke="#3b86cf" stroke-width="1.1" />
<line x1="645.00" y1="123.80" x2="660.50" y2="123.80" stroke="#3b86cf" stroke-width="1.0" stroke-dasharray="2 1.4"/>
<text x="664.20" y="100.30" text-anchor="start" fill="#231f20" style="font-size:10.5px;font-family:'Liberation Sans', sans-serif;" >Real</text>
<text x="664.20" y="120.00" text-anchor="start" fill="#231f20" style="font-size:10.5px;font-family:'Liberation Sans', sans-serif;" >Imag</text>
<circle cx="25.2" cy="172.4" r="1.5" fill="#e0385c"/>
<text x="30.00" y="175.80" text-anchor="start" fill="#231f20" style="font-size:11px;font-family:'Liberation Sans', sans-serif;" >A0</text>
<circle cx="56.6" cy="172.4" r="1.5" fill="#3b8fcb"/>
<text x="61.60" y="175.80" text-anchor="start" fill="#231f20" style="font-size:11px;font-family:'Liberation Sans', sans-serif;" >S0</text>
<rect x="85.2" y="169.5" width="11.5" height="1.5" fill="#ea2a92"/>
<rect x="85.2" y="173.0" width="11.5" height="1.5" fill="#2bb2e6"/>
<text x="100.60" y="175.80" text-anchor="start" fill="#231f20" style="font-size:11px;font-family:'Liberation Sans', sans-serif;" >Fits (viscoelastic, two-layer model)</text>
<line x1="34.40" y1="259.57" x2="129.70" y2="259.57" stroke="#b0b0b0" stroke-width="0.9" stroke-dasharray="1.3 1.35"/>
<line x1="34.40" y1="243.24" x2="129.70" y2="243.24" stroke="#b0b0b0" stroke-width="0.9" stroke-dasharray="1.3 1.35"/>
<line x1="34.40" y1="226.91" x2="129.70" y2="226.91" stroke="#b0b0b0" stroke-width="0.9" stroke-dasharray="1.3 1.35"/>
<line x1="34.40" y1="210.58" x2="129.70" y2="210.58" stroke="#b0b0b0" stroke-width="0.9" stroke-dasharray="1.3 1.35"/>
<line x1="57.00" y1="197.40" x2="57.00" y2="271.60" stroke="#bababa" stroke-width="0.9" stroke-dasharray="1.2 1.6"/>
<line x1="79.50" y1="197.40" x2="79.50" y2="271.60" stroke="#bababa" stroke-width="0.9" stroke-dasharray="1.2 1.6"/>
<line x1="102.00" y1="197.40" x2="102.00" y2="271.60" stroke="#bababa" stroke-width="0.9" stroke-dasharray="1.2 1.6"/>
<line x1="124.50" y1="197.40" x2="124.50" y2="271.60" stroke="#bababa" stroke-width="0.9" stroke-dasharray="1.2 1.6"/>
<path d="M34.50,228.87 C34.94,228.65 36.16,227.84 37.12,227.56 C38.09,227.28 38.47,226.88 40.31,227.19 C42.16,227.50 45.50,228.50 48.19,229.43 C50.88,230.36 53.69,231.23 56.44,232.79 C59.19,234.34 61.94,237.21 64.69,238.76 C67.44,240.32 70.41,241.47 72.94,242.12 C75.47,242.77 77.66,242.59 79.88,242.68 C82.09,242.77 82.69,242.77 86.25,242.68 C89.81,242.59 94.88,242.34 101.25,242.12 C107.62,241.90 120.62,241.50 124.50,241.37" fill="none" stroke="#2bb2e6" stroke-width="1.25"/>
<path d="M34.88,271.42 C35.00,270.70 35.25,268.62 35.62,267.12 C36.00,265.63 36.56,263.70 37.12,262.46 C37.69,261.22 38.00,260.75 39.00,259.66 C40.00,258.57 41.50,257.17 43.12,255.93 C44.75,254.68 46.56,253.22 48.75,252.20 C50.94,251.17 53.44,250.39 56.25,249.77 C59.06,249.15 61.88,248.84 65.62,248.46 C69.38,248.09 72.81,247.84 78.75,247.53 C84.69,247.22 93.62,246.91 101.25,246.60 C108.88,246.29 120.62,245.82 124.50,245.66" fill="none" stroke="#ea2a92" stroke-width="1.25"/>
<line x1="47.81" y1="226.63" x2="47.81" y2="230.74" stroke="#5a9bd0" stroke-width="0.85" />
<line x1="45.71" y1="226.63" x2="49.91" y2="226.63" stroke="#5a9bd0" stroke-width="0.85" />
<line x1="45.71" y1="230.74" x2="49.91" y2="230.74" stroke="#5a9bd0" stroke-width="0.85" />
<line x1="52.12" y1="223.27" x2="52.12" y2="237.27" stroke="#5a9bd0" stroke-width="0.85" />
<line x1="50.02" y1="223.27" x2="54.23" y2="223.27" stroke="#5a9bd0" stroke-width="0.85" />
<line x1="50.02" y1="237.27" x2="54.23" y2="237.27" stroke="#5a9bd0" stroke-width="0.85" />
<line x1="56.62" y1="223.27" x2="56.62" y2="239.13" stroke="#5a9bd0" stroke-width="0.85" />
<line x1="54.52" y1="223.27" x2="58.73" y2="223.27" stroke="#5a9bd0" stroke-width="0.85" />
<line x1="54.52" y1="239.13" x2="58.73" y2="239.13" stroke="#5a9bd0" stroke-width="0.85" />
<line x1="70.12" y1="243.80" x2="70.12" y2="249.40" stroke="#e2506e" stroke-width="0.85" />
<line x1="68.03" y1="243.80" x2="72.22" y2="243.80" stroke="#e2506e" stroke-width="0.85" />
<line x1="68.03" y1="249.40" x2="72.22" y2="249.40" stroke="#e2506e" stroke-width="0.85" />
<circle cx="47.81" cy="228.50" r="1.72" fill="#3b8fcb"/>
<circle cx="52.12" cy="229.43" r="1.72" fill="#3b8fcb"/>
<circle cx="56.62" cy="229.99" r="1.72" fill="#3b8fcb"/>
<circle cx="65.62" cy="236.71" r="1.72" fill="#3b8fcb"/>
<circle cx="83.81" cy="243.43" r="1.72" fill="#3b8fcb"/>
<circle cx="88.31" cy="243.80" r="1.72" fill="#3b8fcb"/>
<circle cx="92.81" cy="244.36" r="1.72" fill="#3b8fcb"/>
<circle cx="97.50" cy="242.49" r="1.72" fill="#3b8fcb"/>
<circle cx="102.00" cy="242.31" r="1.72" fill="#3b8fcb"/>
<circle cx="106.50" cy="241.93" r="1.72" fill="#3b8fcb"/>
<circle cx="111.00" cy="240.81" r="1.72" fill="#3b8fcb"/>
<circle cx="115.50" cy="240.44" r="1.72" fill="#3b8fcb"/>
<circle cx="120.00" cy="239.51" r="1.72" fill="#3b8fcb"/>
<circle cx="124.50" cy="240.25" r="1.72" fill="#3b8fcb"/>
<circle cx="38.44" cy="260.22" r="1.72" fill="#e0385c"/>
<circle cx="43.12" cy="256.86" r="1.72" fill="#e0385c"/>
<circle cx="47.81" cy="253.50" r="1.72" fill="#e0385c"/>
<circle cx="52.12" cy="250.70" r="1.72" fill="#e0385c"/>
<circle cx="56.62" cy="248.09" r="1.72" fill="#e0385c"/>
<circle cx="61.12" cy="245.66" r="1.72" fill="#e0385c"/>
<circle cx="65.62" cy="245.66" r="1.72" fill="#e0385c"/>
<circle cx="70.12" cy="245.66" r="1.72" fill="#e0385c"/>
<circle cx="74.62" cy="244.73" r="1.72" fill="#8f9aa2"/>
<circle cx="79.12" cy="244.73" r="1.72" fill="#8f9aa2"/>
<path d="M34.40,271.60 L34.40,197.40 L129.70,197.40" fill="none" stroke="#444" stroke-width="1.05"/>
<path d="M34.40,271.60 L129.70,271.60 L129.70,197.40" fill="none" stroke="#555" stroke-width="1.15"/>
<line x1="31.40" y1="259.57" x2="34.40" y2="259.57" stroke="#3a3a3a" stroke-width="1.0" />
<text x="29.50" y="262.77" text-anchor="end" fill="#231f20" style="font-size:10px;font-family:'Liberation Sans', sans-serif;" >5</text>
<line x1="31.40" y1="243.24" x2="34.40" y2="243.24" stroke="#3a3a3a" stroke-width="1.0" />
<text x="29.50" y="246.44" text-anchor="end" fill="#231f20" style="font-size:10px;font-family:'Liberation Sans', sans-serif;" >10</text>
<line x1="31.40" y1="226.91" x2="34.40" y2="226.91" stroke="#3a3a3a" stroke-width="1.0" />
<text x="29.50" y="230.11" text-anchor="end" fill="#231f20" style="font-size:10px;font-family:'Liberation Sans', sans-serif;" >20</text>
<line x1="31.40" y1="210.58" x2="34.40" y2="210.58" stroke="#3a3a3a" stroke-width="1.0" />
<text x="29.50" y="213.78" text-anchor="end" fill="#231f20" style="font-size:10px;font-family:'Liberation Sans', sans-serif;" >40</text>
<line x1="32.80" y1="264.82" x2="34.40" y2="264.82" stroke="#3a3a3a" stroke-width="0.9" />
<line x1="32.80" y1="255.27" x2="34.40" y2="255.27" stroke="#3a3a3a" stroke-width="0.9" />
<line x1="32.80" y1="251.64" x2="34.40" y2="251.64" stroke="#3a3a3a" stroke-width="0.9" />
<line x1="32.80" y1="248.50" x2="34.40" y2="248.50" stroke="#3a3a3a" stroke-width="0.9" />
<line x1="32.80" y1="245.72" x2="34.40" y2="245.72" stroke="#3a3a3a" stroke-width="0.9" />
<line x1="32.80" y1="233.69" x2="34.40" y2="233.69" stroke="#3a3a3a" stroke-width="0.9" />
<line x1="32.80" y1="217.36" x2="34.40" y2="217.36" stroke="#3a3a3a" stroke-width="0.9" />
<line x1="32.80" y1="205.33" x2="34.40" y2="205.33" stroke="#3a3a3a" stroke-width="0.9" />
<line x1="32.80" y1="201.03" x2="34.40" y2="201.03" stroke="#3a3a3a" stroke-width="0.9" />
<line x1="34.50" y1="271.60" x2="34.50" y2="274.60" stroke="#555" stroke-width="1.0" />
<text x="34.50" y="284.40" text-anchor="middle" fill="#231f20" style="font-size:10px;font-family:'Liberation Sans', sans-serif;" >0</text>
<line x1="57.00" y1="271.60" x2="57.00" y2="274.60" stroke="#555" stroke-width="1.0" />
<text x="57.00" y="284.40" text-anchor="middle" fill="#231f20" style="font-size:10px;font-family:'Liberation Sans', sans-serif;" >5</text>
<line x1="79.50" y1="271.60" x2="79.50" y2="274.60" stroke="#555" stroke-width="1.0" />
<text x="79.50" y="284.40" text-anchor="middle" fill="#231f20" style="font-size:10px;font-family:'Liberation Sans', sans-serif;" >10</text>
<line x1="102.00" y1="271.60" x2="102.00" y2="274.60" stroke="#555" stroke-width="1.0" />
<text x="102.00" y="284.40" text-anchor="middle" fill="#231f20" style="font-size:10px;font-family:'Liberation Sans', sans-serif;" >15</text>
<line x1="124.50" y1="271.60" x2="124.50" y2="274.60" stroke="#555" stroke-width="1.0" />
<text x="124.50" y="284.40" text-anchor="middle" fill="#231f20" style="font-size:10px;font-family:'Liberation Sans', sans-serif;" >20</text>
<text transform="translate(83.55,294.00) scale(0.94,1)" text-anchor="middle" fill="#231f20" style="font-size:10.5px;font-family:'Liberation Sans', sans-serif;">Frequency (kHz)</text>
<text transform="translate(11.40,234.50) rotate(-90) scale(1.1,1)" x="0" y="0" text-anchor="middle" fill="#231f20" style="font-size:10.4px;font-family:'Liberation Sans', sans-serif;">v<tspan dy="2.6" style="font-size:7.6px">axial</tspan><tspan dy="-2.6" dx="1.6">(m/s)</tspan></text>
<text x="81.05" y="193.90" text-anchor="middle" fill="#231f20" style="font-size:11px;font-family:'Liberation Sans', sans-serif;" >λ = 1</text>
<line x1="170.30" y1="259.57" x2="265.60" y2="259.57" stroke="#b0b0b0" stroke-width="0.9" stroke-dasharray="1.3 1.35"/>
<line x1="170.30" y1="243.24" x2="265.60" y2="243.24" stroke="#b0b0b0" stroke-width="0.9" stroke-dasharray="1.3 1.35"/>
<line x1="170.30" y1="226.91" x2="265.60" y2="226.91" stroke="#b0b0b0" stroke-width="0.9" stroke-dasharray="1.3 1.35"/>
<line x1="170.30" y1="210.58" x2="265.60" y2="210.58" stroke="#b0b0b0" stroke-width="0.9" stroke-dasharray="1.3 1.35"/>
<line x1="192.90" y1="197.40" x2="192.90" y2="271.60" stroke="#bababa" stroke-width="0.9" stroke-dasharray="1.2 1.6"/>
<line x1="215.40" y1="197.40" x2="215.40" y2="271.60" stroke="#bababa" stroke-width="0.9" stroke-dasharray="1.2 1.6"/>
<line x1="237.90" y1="197.40" x2="237.90" y2="271.60" stroke="#bababa" stroke-width="0.9" stroke-dasharray="1.2 1.6"/>
<line x1="260.40" y1="197.40" x2="260.40" y2="271.60" stroke="#bababa" stroke-width="0.9" stroke-dasharray="1.2 1.6"/>
<path d="M170.40,227.00 C171.21,226.48 173.59,224.45 175.28,223.83 C176.96,223.21 178.78,223.30 180.53,223.27 C182.28,223.24 184.03,223.43 185.78,223.65 C187.53,223.86 189.28,224.05 191.03,224.58 C192.78,225.11 194.53,226.04 196.28,226.82 C198.03,227.59 199.78,228.37 201.53,229.24 C203.28,230.11 205.03,231.14 206.78,232.04 C208.53,232.94 210.24,233.88 212.03,234.65 C213.81,235.43 215.78,236.15 217.46,236.71 C219.15,237.27 220.12,237.61 222.15,238.01 C224.18,238.42 227.03,238.82 229.65,239.13 C232.28,239.44 232.78,239.63 237.90,239.88 C243.03,240.13 256.65,240.50 260.40,240.63" fill="none" stroke="#2bb2e6" stroke-width="1.25"/>
<path d="M170.78,271.42 C170.87,270.70 171.06,268.62 171.34,267.12 C171.62,265.63 171.96,264.17 172.46,262.46 C172.96,260.75 173.24,258.57 174.34,256.86 C175.43,255.15 177.31,253.38 179.03,252.20 C180.74,251.01 182.46,250.55 184.65,249.77 C186.84,248.99 189.03,248.28 192.15,247.53 C195.28,246.78 199.56,245.91 203.40,245.29 C207.24,244.67 209.46,244.30 215.21,243.80 C220.96,243.30 230.37,242.71 237.90,242.31 C245.43,241.90 256.65,241.53 260.40,241.37" fill="none" stroke="#ea2a92" stroke-width="1.25"/>
<line x1="183.71" y1="217.30" x2="183.71" y2="222.90" stroke="#5a9bd0" stroke-width="0.85" />
<line x1="181.61" y1="217.30" x2="185.81" y2="217.30" stroke="#5a9bd0" stroke-width="0.85" />
<line x1="181.61" y1="222.90" x2="185.81" y2="222.90" stroke="#5a9bd0" stroke-width="0.85" />
<line x1="201.53" y1="232.23" x2="201.53" y2="238.57" stroke="#5a9bd0" stroke-width="0.85" />
<line x1="199.43" y1="232.23" x2="203.62" y2="232.23" stroke="#5a9bd0" stroke-width="0.85" />
<line x1="199.43" y1="238.57" x2="203.62" y2="238.57" stroke="#5a9bd0" stroke-width="0.85" />
<line x1="197.03" y1="246.60" x2="197.03" y2="249.40" stroke="#e2506e" stroke-width="0.85" />
<line x1="194.93" y1="246.60" x2="199.12" y2="246.60" stroke="#e2506e" stroke-width="0.85" />
<line x1="194.93" y1="249.40" x2="199.12" y2="249.40" stroke="#e2506e" stroke-width="0.85" />
<circle cx="183.71" cy="219.91" r="1.72" fill="#3b8fcb"/>
<circle cx="188.03" cy="224.58" r="1.72" fill="#3b8fcb"/>
<circle cx="192.53" cy="222.71" r="1.72" fill="#3b8fcb"/>
<circle cx="197.03" cy="230.36" r="1.72" fill="#3b8fcb"/>
<circle cx="201.53" cy="235.03" r="1.72" fill="#3b8fcb"/>
<circle cx="206.03" cy="234.47" r="1.72" fill="#3b8fcb"/>
<circle cx="210.53" cy="237.83" r="1.72" fill="#3b8fcb"/>
<circle cx="215.03" cy="239.69" r="1.72" fill="#3b8fcb"/>
<circle cx="219.71" cy="240.07" r="1.72" fill="#3b8fcb"/>
<circle cx="224.21" cy="239.69" r="1.72" fill="#3b8fcb"/>
<circle cx="228.71" cy="239.69" r="1.72" fill="#3b8fcb"/>
<circle cx="233.40" cy="240.07" r="1.72" fill="#3b8fcb"/>
<circle cx="237.90" cy="239.69" r="1.72" fill="#3b8fcb"/>
<circle cx="242.40" cy="239.51" r="1.72" fill="#3b8fcb"/>
<circle cx="246.90" cy="239.51" r="1.72" fill="#3b8fcb"/>
<circle cx="251.40" cy="238.57" r="1.72" fill="#3b8fcb"/>
<circle cx="255.90" cy="238.20" r="1.72" fill="#3b8fcb"/>
<circle cx="260.40" cy="237.45" r="1.72" fill="#3b8fcb"/>
<circle cx="174.34" cy="256.11" r="1.72" fill="#e0385c"/>
<circle cx="179.03" cy="251.82" r="1.72" fill="#e0385c"/>
<circle cx="183.71" cy="250.52" r="1.72" fill="#e0385c"/>
<circle cx="188.03" cy="249.40" r="1.72" fill="#e0385c"/>
<circle cx="192.53" cy="247.16" r="1.72" fill="#e0385c"/>
<circle cx="197.03" cy="248.09" r="1.72" fill="#e0385c"/>
<circle cx="201.53" cy="246.97" r="1.72" fill="#e0385c"/>
<circle cx="206.03" cy="244.73" r="1.72" fill="#e0385c"/>
<circle cx="210.53" cy="244.17" r="1.72" fill="#e0385c"/>
<path d="M170.30,271.60 L170.30,197.40 L265.60,197.40" fill="none" stroke="#444" stroke-width="1.05"/>
<path d="M170.30,271.60 L265.60,271.60 L265.60,197.40" fill="none" stroke="#555" stroke-width="1.15"/>
<line x1="167.30" y1="259.57" x2="170.30" y2="259.57" stroke="#3a3a3a" stroke-width="1.0" />
<text x="165.40" y="262.77" text-anchor="end" fill="#231f20" style="font-size:10px;font-family:'Liberation Sans', sans-serif;" >5</text>
<line x1="167.30" y1="243.24" x2="170.30" y2="243.24" stroke="#3a3a3a" stroke-width="1.0" />
<text x="165.40" y="246.44" text-anchor="end" fill="#231f20" style="font-size:10px;font-family:'Liberation Sans', sans-serif;" >10</text>
<line x1="167.30" y1="226.91" x2="170.30" y2="226.91" stroke="#3a3a3a" stroke-width="1.0" />
<text x="165.40" y="230.11" text-anchor="end" fill="#231f20" style="font-size:10px;font-family:'Liberation Sans', sans-serif;" >20</text>
<line x1="167.30" y1="210.58" x2="170.30" y2="210.58" stroke="#3a3a3a" stroke-width="1.0" />
<text x="165.40" y="213.78" text-anchor="end" fill="#231f20" style="font-size:10px;font-family:'Liberation Sans', sans-serif;" >40</text>
<line x1="168.70" y1="264.82" x2="170.30" y2="264.82" stroke="#3a3a3a" stroke-width="0.9" />
<line x1="168.70" y1="255.27" x2="170.30" y2="255.27" stroke="#3a3a3a" stroke-width="0.9" />
<line x1="168.70" y1="251.64" x2="170.30" y2="251.64" stroke="#3a3a3a" stroke-width="0.9" />
<line x1="168.70" y1="248.50" x2="170.30" y2="248.50" stroke="#3a3a3a" stroke-width="0.9" />
<line x1="168.70" y1="245.72" x2="170.30" y2="245.72" stroke="#3a3a3a" stroke-width="0.9" />
<line x1="168.70" y1="233.69" x2="170.30" y2="233.69" stroke="#3a3a3a" stroke-width="0.9" />
<line x1="168.70" y1="217.36" x2="170.30" y2="217.36" stroke="#3a3a3a" stroke-width="0.9" />
<line x1="168.70" y1="205.33" x2="170.30" y2="205.33" stroke="#3a3a3a" stroke-width="0.9" />
<line x1="168.70" y1="201.03" x2="170.30" y2="201.03" stroke="#3a3a3a" stroke-width="0.9" />
<line x1="170.40" y1="271.60" x2="170.40" y2="274.60" stroke="#555" stroke-width="1.0" />
<text x="170.40" y="284.40" text-anchor="middle" fill="#231f20" style="font-size:10px;font-family:'Liberation Sans', sans-serif;" >0</text>
<line x1="192.90" y1="271.60" x2="192.90" y2="274.60" stroke="#555" stroke-width="1.0" />
<text x="192.90" y="284.40" text-anchor="middle" fill="#231f20" style="font-size:10px;font-family:'Liberation Sans', sans-serif;" >5</text>
<line x1="215.40" y1="271.60" x2="215.40" y2="274.60" stroke="#555" stroke-width="1.0" />
<text x="215.40" y="284.40" text-anchor="middle" fill="#231f20" style="font-size:10px;font-family:'Liberation Sans', sans-serif;" >10</text>
<line x1="237.90" y1="271.60" x2="237.90" y2="274.60" stroke="#555" stroke-width="1.0" />
<text x="237.90" y="284.40" text-anchor="middle" fill="#231f20" style="font-size:10px;font-family:'Liberation Sans', sans-serif;" >15</text>
<line x1="260.40" y1="271.60" x2="260.40" y2="274.60" stroke="#555" stroke-width="1.0" />
<text x="260.40" y="284.40" text-anchor="middle" fill="#231f20" style="font-size:10px;font-family:'Liberation Sans', sans-serif;" >20</text>
<text transform="translate(219.45,294.00) scale(0.94,1)" text-anchor="middle" fill="#231f20" style="font-size:10.5px;font-family:'Liberation Sans', sans-serif;">Frequency (kHz)</text>
<text transform="translate(147.30,234.50) rotate(-90) scale(1.1,1)" x="0" y="0" text-anchor="middle" fill="#231f20" style="font-size:10.4px;font-family:'Liberation Sans', sans-serif;">v<tspan dy="2.6" style="font-size:7.6px">axial</tspan><tspan dy="-2.6" dx="1.6">(m/s)</tspan></text>
<text x="216.95" y="193.90" text-anchor="middle" fill="#231f20" style="font-size:11px;font-family:'Liberation Sans', sans-serif;" >λ = 1.1</text>
<line x1="306.30" y1="259.57" x2="401.60" y2="259.57" stroke="#b0b0b0" stroke-width="0.9" stroke-dasharray="1.3 1.35"/>
<line x1="306.30" y1="243.24" x2="401.60" y2="243.24" stroke="#b0b0b0" stroke-width="0.9" stroke-dasharray="1.3 1.35"/>
<line x1="306.30" y1="226.91" x2="401.60" y2="226.91" stroke="#b0b0b0" stroke-width="0.9" stroke-dasharray="1.3 1.35"/>
<line x1="306.30" y1="210.58" x2="401.60" y2="210.58" stroke="#b0b0b0" stroke-width="0.9" stroke-dasharray="1.3 1.35"/>
<line x1="328.90" y1="197.40" x2="328.90" y2="271.60" stroke="#bababa" stroke-width="0.9" stroke-dasharray="1.2 1.6"/>
<line x1="351.40" y1="197.40" x2="351.40" y2="271.60" stroke="#bababa" stroke-width="0.9" stroke-dasharray="1.2 1.6"/>
<line x1="373.90" y1="197.40" x2="373.90" y2="271.60" stroke="#bababa" stroke-width="0.9" stroke-dasharray="1.2 1.6"/>
<line x1="396.40" y1="197.40" x2="396.40" y2="271.60" stroke="#bababa" stroke-width="0.9" stroke-dasharray="1.2 1.6"/>
<path d="M306.40,218.05 C307.53,217.92 310.78,217.36 313.15,217.30 C315.53,217.24 318.15,217.39 320.65,217.67 C323.15,217.95 325.65,218.36 328.15,218.98 C330.65,219.60 333.15,220.53 335.65,221.41 C338.15,222.28 340.56,223.12 343.15,224.20 C345.74,225.29 348.71,226.69 351.21,227.94 C353.71,229.18 355.74,230.49 358.15,231.67 C360.56,232.85 363.03,234.09 365.65,235.03 C368.28,235.96 370.78,236.68 373.90,237.27 C377.03,237.86 380.65,238.26 384.40,238.57 C388.15,238.88 394.40,239.04 396.40,239.13" fill="none" stroke="#2bb2e6" stroke-width="1.25"/>
<path d="M306.78,271.42 C306.84,270.70 306.96,268.93 307.15,267.12 C307.34,265.32 307.46,262.46 307.90,260.59 C308.34,258.73 308.90,257.48 309.78,255.93 C310.65,254.37 311.65,252.51 313.15,251.26 C314.65,250.02 316.28,249.33 318.78,248.46 C321.28,247.59 324.71,246.63 328.15,246.04 C331.59,245.45 335.56,245.20 339.40,244.92 C343.24,244.64 345.46,244.45 351.21,244.36 C356.96,244.27 366.37,244.27 373.90,244.36 C381.43,244.45 392.65,244.82 396.40,244.92" fill="none" stroke="#ea2a92" stroke-width="1.25"/>
<line x1="337.53" y1="218.61" x2="337.53" y2="226.07" stroke="#5a9bd0" stroke-width="0.85" />
<line x1="335.43" y1="218.61" x2="339.63" y2="218.61" stroke="#5a9bd0" stroke-width="0.85" />
<line x1="335.43" y1="226.07" x2="339.63" y2="226.07" stroke="#5a9bd0" stroke-width="0.85" />
<line x1="346.53" y1="227.00" x2="346.53" y2="231.11" stroke="#5a9bd0" stroke-width="0.85" />
<line x1="344.43" y1="227.00" x2="348.63" y2="227.00" stroke="#5a9bd0" stroke-width="0.85" />
<line x1="344.43" y1="231.11" x2="348.63" y2="231.11" stroke="#5a9bd0" stroke-width="0.85" />
<circle cx="328.53" cy="220.47" r="1.72" fill="#3b8fcb"/>
<circle cx="333.03" cy="221.41" r="1.72" fill="#3b8fcb"/>
<circle cx="337.53" cy="221.97" r="1.72" fill="#3b8fcb"/>
<circle cx="346.53" cy="228.87" r="1.72" fill="#3b8fcb"/>
<circle cx="351.03" cy="232.60" r="1.72" fill="#3b8fcb"/>
<circle cx="355.71" cy="235.03" r="1.72" fill="#3b8fcb"/>
<circle cx="360.21" cy="236.33" r="1.72" fill="#3b8fcb"/>
<circle cx="364.71" cy="238.20" r="1.72" fill="#3b8fcb"/>
<circle cx="369.40" cy="237.83" r="1.72" fill="#3b8fcb"/>
<circle cx="373.90" cy="237.64" r="1.72" fill="#3b8fcb"/>
<circle cx="378.40" cy="237.64" r="1.72" fill="#3b8fcb"/>
<circle cx="382.90" cy="237.45" r="1.72" fill="#3b8fcb"/>
<circle cx="387.40" cy="237.08" r="1.72" fill="#3b8fcb"/>
<circle cx="391.90" cy="236.33" r="1.72" fill="#3b8fcb"/>
<circle cx="396.40" cy="236.33" r="1.72" fill="#3b8fcb"/>
<circle cx="310.34" cy="254.99" r="1.72" fill="#e0385c"/>
<circle cx="315.03" cy="249.40" r="1.72" fill="#e0385c"/>
<circle cx="319.71" cy="247.90" r="1.72" fill="#e0385c"/>
<circle cx="324.03" cy="246.78" r="1.72" fill="#e0385c"/>
<circle cx="328.53" cy="245.66" r="1.72" fill="#e0385c"/>
<circle cx="333.03" cy="246.22" r="1.72" fill="#e0385c"/>
<circle cx="337.53" cy="245.29" r="1.72" fill="#e0385c"/>
<circle cx="342.03" cy="245.10" r="1.72" fill="#e0385c"/>
<circle cx="346.53" cy="244.73" r="1.72" fill="#e0385c"/>
<circle cx="351.03" cy="244.17" r="1.72" fill="#e0385c"/>
<path d="M306.30,271.60 L306.30,197.40 L401.60,197.40" fill="none" stroke="#444" stroke-width="1.05"/>
<path d="M306.30,271.60 L401.60,271.60 L401.60,197.40" fill="none" stroke="#555" stroke-width="1.15"/>
<line x1="303.30" y1="259.57" x2="306.30" y2="259.57" stroke="#3a3a3a" stroke-width="1.0" />
<text x="301.40" y="262.77" text-anchor="end" fill="#231f20" style="font-size:10px;font-family:'Liberation Sans', sans-serif;" >5</text>
<line x1="303.30" y1="243.24" x2="306.30" y2="243.24" stroke="#3a3a3a" stroke-width="1.0" />
<text x="301.40" y="246.44" text-anchor="end" fill="#231f20" style="font-size:10px;font-family:'Liberation Sans', sans-serif;" >10</text>
<line x1="303.30" y1="226.91" x2="306.30" y2="226.91" stroke="#3a3a3a" stroke-width="1.0" />
<text x="301.40" y="230.11" text-anchor="end" fill="#231f20" style="font-size:10px;font-family:'Liberation Sans', sans-serif;" >20</text>
<line x1="303.30" y1="210.58" x2="306.30" y2="210.58" stroke="#3a3a3a" stroke-width="1.0" />
<text x="301.40" y="213.78" text-anchor="end" fill="#231f20" style="font-size:10px;font-family:'Liberation Sans', sans-serif;" >40</text>
<line x1="304.70" y1="264.82" x2="306.30" y2="264.82" stroke="#3a3a3a" stroke-width="0.9" />
<line x1="304.70" y1="255.27" x2="306.30" y2="255.27" stroke="#3a3a3a" stroke-width="0.9" />
<line x1="304.70" y1="251.64" x2="306.30" y2="251.64" stroke="#3a3a3a" stroke-width="0.9" />
<line x1="304.70" y1="248.50" x2="306.30" y2="248.50" stroke="#3a3a3a" stroke-width="0.9" />
<line x1="304.70" y1="245.72" x2="306.30" y2="245.72" stroke="#3a3a3a" stroke-width="0.9" />
<line x1="304.70" y1="233.69" x2="306.30" y2="233.69" stroke="#3a3a3a" stroke-width="0.9" />
<line x1="304.70" y1="217.36" x2="306.30" y2="217.36" stroke="#3a3a3a" stroke-width="0.9" />
<line x1="304.70" y1="205.33" x2="306.30" y2="205.33" stroke="#3a3a3a" stroke-width="0.9" />
<line x1="304.70" y1="201.03" x2="306.30" y2="201.03" stroke="#3a3a3a" stroke-width="0.9" />
<line x1="306.40" y1="271.60" x2="306.40" y2="274.60" stroke="#555" stroke-width="1.0" />
<text x="306.40" y="284.40" text-anchor="middle" fill="#231f20" style="font-size:10px;font-family:'Liberation Sans', sans-serif;" >0</text>
<line x1="328.90" y1="271.60" x2="328.90" y2="274.60" stroke="#555" stroke-width="1.0" />
<text x="328.90" y="284.40" text-anchor="middle" fill="#231f20" style="font-size:10px;font-family:'Liberation Sans', sans-serif;" >5</text>
<line x1="351.40" y1="271.60" x2="351.40" y2="274.60" stroke="#555" stroke-width="1.0" />
<text x="351.40" y="284.40" text-anchor="middle" fill="#231f20" style="font-size:10px;font-family:'Liberation Sans', sans-serif;" >10</text>
<line x1="373.90" y1="271.60" x2="373.90" y2="274.60" stroke="#555" stroke-width="1.0" />
<text x="373.90" y="284.40" text-anchor="middle" fill="#231f20" style="font-size:10px;font-family:'Liberation Sans', sans-serif;" >15</text>
<line x1="396.40" y1="271.60" x2="396.40" y2="274.60" stroke="#555" stroke-width="1.0" />
<text x="396.40" y="284.40" text-anchor="middle" fill="#231f20" style="font-size:10px;font-family:'Liberation Sans', sans-serif;" >20</text>
<text transform="translate(355.45,294.00) scale(0.94,1)" text-anchor="middle" fill="#231f20" style="font-size:10.5px;font-family:'Liberation Sans', sans-serif;">Frequency (kHz)</text>
<text transform="translate(283.30,234.50) rotate(-90) scale(1.1,1)" x="0" y="0" text-anchor="middle" fill="#231f20" style="font-size:10.4px;font-family:'Liberation Sans', sans-serif;">v<tspan dy="2.6" style="font-size:7.6px">axial</tspan><tspan dy="-2.6" dx="1.6">(m/s)</tspan></text>
<text x="352.95" y="193.90" text-anchor="middle" fill="#231f20" style="font-size:11px;font-family:'Liberation Sans', sans-serif;" >λ = 1.2</text>
<line x1="442.40" y1="259.57" x2="537.70" y2="259.57" stroke="#b0b0b0" stroke-width="0.9" stroke-dasharray="1.3 1.35"/>
<line x1="442.40" y1="243.24" x2="537.70" y2="243.24" stroke="#b0b0b0" stroke-width="0.9" stroke-dasharray="1.3 1.35"/>
<line x1="442.40" y1="226.91" x2="537.70" y2="226.91" stroke="#b0b0b0" stroke-width="0.9" stroke-dasharray="1.3 1.35"/>
<line x1="442.40" y1="210.58" x2="537.70" y2="210.58" stroke="#b0b0b0" stroke-width="0.9" stroke-dasharray="1.3 1.35"/>
<line x1="465.00" y1="197.40" x2="465.00" y2="271.60" stroke="#bababa" stroke-width="0.9" stroke-dasharray="1.2 1.6"/>
<line x1="487.50" y1="197.40" x2="487.50" y2="271.60" stroke="#bababa" stroke-width="0.9" stroke-dasharray="1.2 1.6"/>
<line x1="510.00" y1="197.40" x2="510.00" y2="271.60" stroke="#bababa" stroke-width="0.9" stroke-dasharray="1.2 1.6"/>
<line x1="532.50" y1="197.40" x2="532.50" y2="271.60" stroke="#bababa" stroke-width="0.9" stroke-dasharray="1.2 1.6"/>
<path d="M442.50,211.52 C444.09,211.70 448.44,211.86 452.06,212.64 C455.69,213.41 460.34,215.19 464.25,216.18 C468.16,217.18 471.75,217.86 475.50,218.61 C479.25,219.35 482.78,219.70 486.75,220.66 C490.72,221.62 495.66,223.21 499.31,224.39 C502.97,225.57 505.56,226.76 508.69,227.75 C511.81,228.75 514.94,229.55 518.06,230.36 C521.19,231.17 525.03,232.14 527.44,232.60 C529.84,233.07 531.66,233.07 532.50,233.16" fill="none" stroke="#2bb2e6" stroke-width="1.25"/>
<path d="M442.88,271.42 C442.91,270.55 442.97,268.00 443.06,266.19 C443.16,264.39 443.19,262.52 443.44,260.59 C443.69,258.66 443.91,256.49 444.56,254.62 C445.22,252.76 445.97,250.83 447.38,249.40 C448.78,247.97 450.81,246.91 453.00,246.04 C455.19,245.17 457.38,244.67 460.50,244.17 C463.62,243.67 467.28,243.36 471.75,243.05 C476.22,242.74 482.47,242.49 487.31,242.31 C492.16,242.12 496.53,241.93 500.81,241.93 C505.09,241.93 507.72,242.06 513.00,242.31 C518.28,242.55 529.25,243.24 532.50,243.43" fill="none" stroke="#ea2a92" stroke-width="1.25"/>
<line x1="473.62" y1="216.18" x2="473.62" y2="219.91" stroke="#5a9bd0" stroke-width="0.85" />
<line x1="471.52" y1="216.18" x2="475.73" y2="216.18" stroke="#5a9bd0" stroke-width="0.85" />
<line x1="471.52" y1="219.91" x2="475.73" y2="219.91" stroke="#5a9bd0" stroke-width="0.85" />
<line x1="478.12" y1="215.81" x2="478.12" y2="219.54" stroke="#5a9bd0" stroke-width="0.85" />
<line x1="476.02" y1="215.81" x2="480.23" y2="215.81" stroke="#5a9bd0" stroke-width="0.85" />
<line x1="476.02" y1="219.54" x2="480.23" y2="219.54" stroke="#5a9bd0" stroke-width="0.85" />
<line x1="487.12" y1="214.31" x2="487.12" y2="218.05" stroke="#5a9bd0" stroke-width="0.85" />
<line x1="485.02" y1="214.31" x2="489.23" y2="214.31" stroke="#5a9bd0" stroke-width="0.85" />
<line x1="485.02" y1="218.05" x2="489.23" y2="218.05" stroke="#5a9bd0" stroke-width="0.85" />
<circle cx="469.12" cy="212.45" r="1.72" fill="#3b8fcb"/>
<circle cx="473.62" cy="218.05" r="1.72" fill="#3b8fcb"/>
<circle cx="478.12" cy="217.67" r="1.72" fill="#3b8fcb"/>
<circle cx="482.62" cy="218.79" r="1.72" fill="#3b8fcb"/>
<circle cx="487.12" cy="216.18" r="1.72" fill="#3b8fcb"/>
<circle cx="491.81" cy="221.78" r="1.72" fill="#3b8fcb"/>
<circle cx="496.31" cy="224.20" r="1.72" fill="#3b8fcb"/>
<circle cx="500.81" cy="220.10" r="1.72" fill="#3b8fcb"/>
<circle cx="505.50" cy="226.44" r="1.72" fill="#3b8fcb"/>
<circle cx="510.00" cy="229.24" r="1.72" fill="#3b8fcb"/>
<circle cx="514.50" cy="231.86" r="1.72" fill="#3b8fcb"/>
<circle cx="519.00" cy="232.04" r="1.72" fill="#3b8fcb"/>
<circle cx="523.50" cy="232.98" r="1.72" fill="#3b8fcb"/>
<circle cx="528.00" cy="233.16" r="1.72" fill="#3b8fcb"/>
<circle cx="532.50" cy="233.54" r="1.72" fill="#3b8fcb"/>
<circle cx="446.44" cy="251.64" r="1.72" fill="#e0385c"/>
<circle cx="451.12" cy="246.97" r="1.72" fill="#e0385c"/>
<circle cx="455.81" cy="244.92" r="1.72" fill="#e0385c"/>
<circle cx="460.12" cy="244.17" r="1.72" fill="#e0385c"/>
<circle cx="464.62" cy="243.43" r="1.72" fill="#e0385c"/>
<circle cx="469.12" cy="243.43" r="1.72" fill="#e0385c"/>
<circle cx="473.62" cy="242.68" r="1.72" fill="#e0385c"/>
<circle cx="478.12" cy="242.68" r="1.72" fill="#e0385c"/>
<circle cx="482.62" cy="242.49" r="1.72" fill="#e0385c"/>
<circle cx="487.12" cy="242.68" r="1.72" fill="#e0385c"/>
<circle cx="491.81" cy="242.49" r="1.72" fill="#e0385c"/>
<circle cx="496.31" cy="242.12" r="1.72" fill="#e0385c"/>
<circle cx="500.81" cy="241.19" r="1.72" fill="#e0385c"/>
<path d="M442.40,271.60 L442.40,197.40 L537.70,197.40" fill="none" stroke="#444" stroke-width="1.05"/>
<path d="M442.40,271.60 L537.70,271.60 L537.70,197.40" fill="none" stroke="#555" stroke-width="1.15"/>
<line x1="439.40" y1="259.57" x2="442.40" y2="259.57" stroke="#3a3a3a" stroke-width="1.0" />
<text x="437.50" y="262.77" text-anchor="end" fill="#231f20" style="font-size:10px;font-family:'Liberation Sans', sans-serif;" >5</text>
<line x1="439.40" y1="243.24" x2="442.40" y2="243.24" stroke="#3a3a3a" stroke-width="1.0" />
<text x="437.50" y="246.44" text-anchor="end" fill="#231f20" style="font-size:10px;font-family:'Liberation Sans', sans-serif;" >10</text>
<line x1="439.40" y1="226.91" x2="442.40" y2="226.91" stroke="#3a3a3a" stroke-width="1.0" />
<text x="437.50" y="230.11" text-anchor="end" fill="#231f20" style="font-size:10px;font-family:'Liberation Sans', sans-serif;" >20</text>
<line x1="439.40" y1="210.58" x2="442.40" y2="210.58" stroke="#3a3a3a" stroke-width="1.0" />
<text x="437.50" y="213.78" text-anchor="end" fill="#231f20" style="font-size:10px;font-family:'Liberation Sans', sans-serif;" >40</text>
<line x1="440.80" y1="264.82" x2="442.40" y2="264.82" stroke="#3a3a3a" stroke-width="0.9" />
<line x1="440.80" y1="255.27" x2="442.40" y2="255.27" stroke="#3a3a3a" stroke-width="0.9" />
<line x1="440.80" y1="251.64" x2="442.40" y2="251.64" stroke="#3a3a3a" stroke-width="0.9" />
<line x1="440.80" y1="248.50" x2="442.40" y2="248.50" stroke="#3a3a3a" stroke-width="0.9" />
<line x1="440.80" y1="245.72" x2="442.40" y2="245.72" stroke="#3a3a3a" stroke-width="0.9" />
<line x1="440.80" y1="233.69" x2="442.40" y2="233.69" stroke="#3a3a3a" stroke-width="0.9" />
<line x1="440.80" y1="217.36" x2="442.40" y2="217.36" stroke="#3a3a3a" stroke-width="0.9" />
<line x1="440.80" y1="205.33" x2="442.40" y2="205.33" stroke="#3a3a3a" stroke-width="0.9" />
<line x1="440.80" y1="201.03" x2="442.40" y2="201.03" stroke="#3a3a3a" stroke-width="0.9" />
<line x1="442.50" y1="271.60" x2="442.50" y2="274.60" stroke="#555" stroke-width="1.0" />
<text x="442.50" y="284.40" text-anchor="middle" fill="#231f20" style="font-size:10px;font-family:'Liberation Sans', sans-serif;" >0</text>
<line x1="465.00" y1="271.60" x2="465.00" y2="274.60" stroke="#555" stroke-width="1.0" />
<text x="465.00" y="284.40" text-anchor="middle" fill="#231f20" style="font-size:10px;font-family:'Liberation Sans', sans-serif;" >5</text>
<line x1="487.50" y1="271.60" x2="487.50" y2="274.60" stroke="#555" stroke-width="1.0" />
<text x="487.50" y="284.40" text-anchor="middle" fill="#231f20" style="font-size:10px;font-family:'Liberation Sans', sans-serif;" >10</text>
<line x1="510.00" y1="271.60" x2="510.00" y2="274.60" stroke="#555" stroke-width="1.0" />
<text x="510.00" y="284.40" text-anchor="middle" fill="#231f20" style="font-size:10px;font-family:'Liberation Sans', sans-serif;" >15</text>
<line x1="532.50" y1="271.60" x2="532.50" y2="274.60" stroke="#555" stroke-width="1.0" />
<text x="532.50" y="284.40" text-anchor="middle" fill="#231f20" style="font-size:10px;font-family:'Liberation Sans', sans-serif;" >20</text>
<text transform="translate(491.55,294.00) scale(0.94,1)" text-anchor="middle" fill="#231f20" style="font-size:10.5px;font-family:'Liberation Sans', sans-serif;">Frequency (kHz)</text>
<text transform="translate(419.40,234.50) rotate(-90) scale(1.1,1)" x="0" y="0" text-anchor="middle" fill="#231f20" style="font-size:10.4px;font-family:'Liberation Sans', sans-serif;">v<tspan dy="2.6" style="font-size:7.6px">axial</tspan><tspan dy="-2.6" dx="1.6">(m/s)</tspan></text>
<text x="489.05" y="193.90" text-anchor="middle" fill="#231f20" style="font-size:11px;font-family:'Liberation Sans', sans-serif;" >λ = 1.3</text>
<line x1="578.50" y1="259.57" x2="673.80" y2="259.57" stroke="#b0b0b0" stroke-width="0.9" stroke-dasharray="1.3 1.35"/>
<line x1="578.50" y1="243.24" x2="673.80" y2="243.24" stroke="#b0b0b0" stroke-width="0.9" stroke-dasharray="1.3 1.35"/>
<line x1="578.50" y1="226.91" x2="673.80" y2="226.91" stroke="#b0b0b0" stroke-width="0.9" stroke-dasharray="1.3 1.35"/>
<line x1="578.50" y1="210.58" x2="673.80" y2="210.58" stroke="#b0b0b0" stroke-width="0.9" stroke-dasharray="1.3 1.35"/>
<line x1="601.10" y1="197.40" x2="601.10" y2="271.60" stroke="#bababa" stroke-width="0.9" stroke-dasharray="1.2 1.6"/>
<line x1="623.60" y1="197.40" x2="623.60" y2="271.60" stroke="#bababa" stroke-width="0.9" stroke-dasharray="1.2 1.6"/>
<line x1="646.10" y1="197.40" x2="646.10" y2="271.60" stroke="#bababa" stroke-width="0.9" stroke-dasharray="1.2 1.6"/>
<line x1="668.60" y1="197.40" x2="668.60" y2="271.60" stroke="#bababa" stroke-width="0.9" stroke-dasharray="1.2 1.6"/>
<path d="M578.60,206.85 C579.73,206.91 583.01,207.01 585.35,207.22 C587.69,207.44 589.98,207.58 592.66,208.16 C595.35,208.73 597.82,209.82 601.48,210.68 C605.13,211.53 610.94,212.56 614.60,213.29 C618.26,214.02 619.79,214.45 623.41,215.06 C627.04,215.67 632.51,216.24 636.35,216.93 C640.19,217.61 642.82,218.33 646.48,219.17 C650.13,220.01 654.60,220.75 658.29,221.97 C661.98,223.18 666.88,225.70 668.60,226.44" fill="none" stroke="#2bb2e6" stroke-width="1.25"/>
<path d="M578.79,271.42 C578.82,270.55 578.88,268.15 578.98,266.19 C579.07,264.23 579.13,261.84 579.35,259.66 C579.57,257.48 579.76,254.99 580.29,253.13 C580.82,251.26 581.38,249.96 582.54,248.46 C583.69,246.97 585.51,245.20 587.23,244.17 C588.94,243.15 590.66,242.83 592.85,242.31 C595.04,241.78 597.23,241.37 600.35,241.00 C603.48,240.63 607.76,240.28 611.60,240.07 C615.44,239.85 617.66,239.76 623.41,239.69 C629.16,239.63 638.57,239.57 646.10,239.69 C653.63,239.82 664.85,240.32 668.60,240.44" fill="none" stroke="#ea2a92" stroke-width="1.25"/>
<line x1="614.23" y1="207.41" x2="614.23" y2="212.08" stroke="#5a9bd0" stroke-width="0.85" />
<line x1="612.12" y1="207.41" x2="616.33" y2="207.41" stroke="#5a9bd0" stroke-width="0.85" />
<line x1="612.12" y1="212.08" x2="616.33" y2="212.08" stroke="#5a9bd0" stroke-width="0.85" />
<circle cx="614.23" cy="209.28" r="1.72" fill="#3b8fcb"/>
<circle cx="618.73" cy="210.58" r="1.72" fill="#3b8fcb"/>
<circle cx="623.23" cy="208.90" r="1.72" fill="#3b8fcb"/>
<circle cx="627.91" cy="212.45" r="1.72" fill="#3b8fcb"/>
<circle cx="632.41" cy="214.31" r="1.72" fill="#3b8fcb"/>
<circle cx="636.91" cy="213.38" r="1.72" fill="#3b8fcb"/>
<circle cx="641.60" cy="217.30" r="1.72" fill="#3b8fcb"/>
<circle cx="646.10" cy="218.23" r="1.72" fill="#3b8fcb"/>
<circle cx="650.60" cy="220.47" r="1.72" fill="#3b8fcb"/>
<circle cx="655.10" cy="221.41" r="1.72" fill="#3b8fcb"/>
<circle cx="659.60" cy="223.65" r="1.72" fill="#3b8fcb"/>
<circle cx="664.10" cy="225.70" r="1.72" fill="#3b8fcb"/>
<circle cx="668.60" cy="227.00" r="1.72" fill="#3b8fcb"/>
<circle cx="582.54" cy="250.89" r="1.72" fill="#e0385c"/>
<circle cx="587.23" cy="244.36" r="1.72" fill="#e0385c"/>
<circle cx="591.91" cy="242.31" r="1.72" fill="#e0385c"/>
<circle cx="596.23" cy="241.56" r="1.72" fill="#e0385c"/>
<circle cx="600.73" cy="240.63" r="1.72" fill="#e0385c"/>
<circle cx="605.23" cy="240.07" r="1.72" fill="#e0385c"/>
<circle cx="609.73" cy="239.88" r="1.72" fill="#e0385c"/>
<circle cx="614.23" cy="239.51" r="1.72" fill="#e0385c"/>
<circle cx="618.73" cy="239.13" r="1.72" fill="#e0385c"/>
<circle cx="623.23" cy="239.32" r="1.72" fill="#e0385c"/>
<circle cx="627.91" cy="239.32" r="1.72" fill="#e0385c"/>
<circle cx="632.41" cy="239.51" r="1.72" fill="#e0385c"/>
<circle cx="636.91" cy="240.07" r="1.72" fill="#e0385c"/>
<circle cx="641.60" cy="240.07" r="1.72" fill="#e0385c"/>
<circle cx="646.10" cy="240.44" r="1.72" fill="#e0385c"/>
<circle cx="650.60" cy="240.44" r="1.72" fill="#e0385c"/>
<path d="M578.50,271.60 L578.50,197.40 L673.80,197.40" fill="none" stroke="#444" stroke-width="1.05"/>
<path d="M578.50,271.60 L673.80,271.60 L673.80,197.40" fill="none" stroke="#555" stroke-width="1.15"/>
<line x1="575.50" y1="259.57" x2="578.50" y2="259.57" stroke="#3a3a3a" stroke-width="1.0" />
<text x="573.60" y="262.77" text-anchor="end" fill="#231f20" style="font-size:10px;font-family:'Liberation Sans', sans-serif;" >5</text>
<line x1="575.50" y1="243.24" x2="578.50" y2="243.24" stroke="#3a3a3a" stroke-width="1.0" />
<text x="573.60" y="246.44" text-anchor="end" fill="#231f20" style="font-size:10px;font-family:'Liberation Sans', sans-serif;" >10</text>
<line x1="575.50" y1="226.91" x2="578.50" y2="226.91" stroke="#3a3a3a" stroke-width="1.0" />
<text x="573.60" y="230.11" text-anchor="end" fill="#231f20" style="font-size:10px;font-family:'Liberation Sans', sans-serif;" >20</text>
<line x1="575.50" y1="210.58" x2="578.50" y2="210.58" stroke="#3a3a3a" stroke-width="1.0" />
<text x="573.60" y="213.78" text-anchor="end" fill="#231f20" style="font-size:10px;font-family:'Liberation Sans', sans-serif;" >40</text>
<line x1="576.90" y1="264.82" x2="578.50" y2="264.82" stroke="#3a3a3a" stroke-width="0.9" />
<line x1="576.90" y1="255.27" x2="578.50" y2="255.27" stroke="#3a3a3a" stroke-width="0.9" />
<line x1="576.90" y1="251.64" x2="578.50" y2="251.64" stroke="#3a3a3a" stroke-width="0.9" />
<line x1="576.90" y1="248.50" x2="578.50" y2="248.50" stroke="#3a3a3a" stroke-width="0.9" />
<line x1="576.90" y1="245.72" x2="578.50" y2="245.72" stroke="#3a3a3a" stroke-width="0.9" />
<line x1="576.90" y1="233.69" x2="578.50" y2="233.69" stroke="#3a3a3a" stroke-width="0.9" />
<line x1="576.90" y1="217.36" x2="578.50" y2="217.36" stroke="#3a3a3a" stroke-width="0.9" />
<line x1="576.90" y1="205.33" x2="578.50" y2="205.33" stroke="#3a3a3a" stroke-width="0.9" />
<line x1="576.90" y1="201.03" x2="578.50" y2="201.03" stroke="#3a3a3a" stroke-width="0.9" />
<line x1="578.60" y1="271.60" x2="578.60" y2="274.60" stroke="#555" stroke-width="1.0" />
<text x="578.60" y="284.40" text-anchor="middle" fill="#231f20" style="font-size:10px;font-family:'Liberation Sans', sans-serif;" >0</text>
<line x1="601.10" y1="271.60" x2="601.10" y2="274.60" stroke="#555" stroke-width="1.0" />
<text x="601.10" y="284.40" text-anchor="middle" fill="#231f20" style="font-size:10px;font-family:'Liberation Sans', sans-serif;" >5</text>
<line x1="623.60" y1="271.60" x2="623.60" y2="274.60" stroke="#555" stroke-width="1.0" />
<text x="623.60" y="284.40" text-anchor="middle" fill="#231f20" style="font-size:10px;font-family:'Liberation Sans', sans-serif;" >10</text>
<line x1="646.10" y1="271.60" x2="646.10" y2="274.60" stroke="#555" stroke-width="1.0" />
<text x="646.10" y="284.40" text-anchor="middle" fill="#231f20" style="font-size:10px;font-family:'Liberation Sans', sans-serif;" >15</text>
<line x1="668.60" y1="271.60" x2="668.60" y2="274.60" stroke="#555" stroke-width="1.0" />
<text x="668.60" y="284.40" text-anchor="middle" fill="#231f20" style="font-size:10px;font-family:'Liberation Sans', sans-serif;" >20</text>
<text transform="translate(627.65,294.00) scale(0.94,1)" text-anchor="middle" fill="#231f20" style="font-size:10.5px;font-family:'Liberation Sans', sans-serif;">Frequency (kHz)</text>
<text transform="translate(555.50,234.50) rotate(-90) scale(1.1,1)" x="0" y="0" text-anchor="middle" fill="#231f20" style="font-size:10.4px;font-family:'Liberation Sans', sans-serif;">v<tspan dy="2.6" style="font-size:7.6px">axial</tspan><tspan dy="-2.6" dx="1.6">(m/s)</tspan></text>
<text x="625.15" y="193.90" text-anchor="middle" fill="#231f20" style="font-size:11px;font-family:'Liberation Sans', sans-serif;" >λ = 1.4</text>
<line x1="34.40" y1="389.67" x2="129.70" y2="389.67" stroke="#b0b0b0" stroke-width="0.9" stroke-dasharray="1.3 1.35"/>
<line x1="34.40" y1="373.34" x2="129.70" y2="373.34" stroke="#b0b0b0" stroke-width="0.9" stroke-dasharray="1.3 1.35"/>
<line x1="34.40" y1="357.01" x2="129.70" y2="357.01" stroke="#b0b0b0" stroke-width="0.9" stroke-dasharray="1.3 1.35"/>
<line x1="34.40" y1="340.68" x2="129.70" y2="340.68" stroke="#b0b0b0" stroke-width="0.9" stroke-dasharray="1.3 1.35"/>
<line x1="57.00" y1="327.50" x2="57.00" y2="401.70" stroke="#bababa" stroke-width="0.9" stroke-dasharray="1.2 1.6"/>
<line x1="79.50" y1="327.50" x2="79.50" y2="401.70" stroke="#bababa" stroke-width="0.9" stroke-dasharray="1.2 1.6"/>
<line x1="102.00" y1="327.50" x2="102.00" y2="401.70" stroke="#bababa" stroke-width="0.9" stroke-dasharray="1.2 1.6"/>
<line x1="124.50" y1="327.50" x2="124.50" y2="401.70" stroke="#bababa" stroke-width="0.9" stroke-dasharray="1.2 1.6"/>
<path d="M34.50,357.10 C35.00,356.64 36.38,354.99 37.50,354.30 C38.62,353.62 39.69,353.31 41.25,353.00 C42.81,352.69 45.00,352.44 46.88,352.44 C48.75,352.44 50.62,352.53 52.50,353.00 C54.38,353.47 56.25,354.09 58.12,355.24 C60.00,356.39 61.88,358.50 63.75,359.90 C65.62,361.30 67.50,362.64 69.38,363.64 C71.25,364.63 72.81,365.35 75.00,365.87 C77.19,366.40 78.00,366.71 82.50,366.81 C87.00,366.90 95.00,366.56 102.00,366.43 C109.00,366.31 120.75,366.12 124.50,366.06" fill="none" stroke="#2bb2e6" stroke-width="1.25"/>
<path d="M34.88,401.52 C34.94,400.96 35.09,399.34 35.25,398.16 C35.41,396.98 35.44,395.98 35.81,394.43 C36.19,392.87 36.59,390.54 37.50,388.83 C38.41,387.12 39.69,385.47 41.25,384.16 C42.81,382.86 44.38,382.08 46.88,380.99 C49.38,379.90 52.81,378.56 56.25,377.63 C59.69,376.70 63.66,376.01 67.50,375.39 C71.34,374.77 73.56,374.40 79.31,373.90 C85.06,373.40 94.47,372.81 102.00,372.41 C109.53,372.00 120.75,371.63 124.50,371.47" fill="none" stroke="#ea2a92" stroke-width="1.25"/>
<line x1="47.81" y1="350.57" x2="47.81" y2="354.86" stroke="#5a9bd0" stroke-width="0.85" />
<line x1="45.71" y1="350.57" x2="49.91" y2="350.57" stroke="#5a9bd0" stroke-width="0.85" />
<line x1="45.71" y1="354.86" x2="49.91" y2="354.86" stroke="#5a9bd0" stroke-width="0.85" />
<line x1="61.12" y1="353.00" x2="61.12" y2="359.90" stroke="#5a9bd0" stroke-width="0.85" />
<line x1="59.02" y1="353.00" x2="63.23" y2="353.00" stroke="#5a9bd0" stroke-width="0.85" />
<line x1="59.02" y1="359.90" x2="63.23" y2="359.90" stroke="#5a9bd0" stroke-width="0.85" />
<line x1="65.62" y1="360.84" x2="65.62" y2="365.50" stroke="#5a9bd0" stroke-width="0.85" />
<line x1="63.52" y1="360.84" x2="67.72" y2="360.84" stroke="#5a9bd0" stroke-width="0.85" />
<line x1="63.52" y1="365.50" x2="67.72" y2="365.50" stroke="#5a9bd0" stroke-width="0.85" />
<line x1="70.12" y1="361.77" x2="70.12" y2="366.43" stroke="#5a9bd0" stroke-width="0.85" />
<line x1="68.03" y1="361.77" x2="72.22" y2="361.77" stroke="#5a9bd0" stroke-width="0.85" />
<line x1="68.03" y1="366.43" x2="72.22" y2="366.43" stroke="#5a9bd0" stroke-width="0.85" />
<line x1="65.62" y1="375.76" x2="65.62" y2="381.36" stroke="#e2506e" stroke-width="0.85" />
<line x1="63.52" y1="375.76" x2="67.72" y2="375.76" stroke="#e2506e" stroke-width="0.85" />
<line x1="63.52" y1="381.36" x2="67.72" y2="381.36" stroke="#e2506e" stroke-width="0.85" />
<circle cx="47.81" cy="352.44" r="1.72" fill="#3b8fcb"/>
<circle cx="52.12" cy="353.37" r="1.72" fill="#3b8fcb"/>
<circle cx="56.62" cy="356.17" r="1.72" fill="#3b8fcb"/>
<circle cx="61.12" cy="356.17" r="1.72" fill="#3b8fcb"/>
<circle cx="65.62" cy="362.70" r="1.72" fill="#3b8fcb"/>
<circle cx="70.12" cy="364.01" r="1.72" fill="#3b8fcb"/>
<circle cx="74.62" cy="366.81" r="1.72" fill="#3b8fcb"/>
<circle cx="79.12" cy="367.37" r="1.72" fill="#3b8fcb"/>
<circle cx="83.81" cy="366.81" r="1.72" fill="#3b8fcb"/>
<circle cx="88.31" cy="366.43" r="1.72" fill="#3b8fcb"/>
<circle cx="92.81" cy="365.69" r="1.72" fill="#3b8fcb"/>
<circle cx="97.50" cy="365.50" r="1.72" fill="#3b8fcb"/>
<circle cx="102.00" cy="365.13" r="1.72" fill="#3b8fcb"/>
<circle cx="106.50" cy="364.57" r="1.72" fill="#3b8fcb"/>
<circle cx="111.00" cy="363.82" r="1.72" fill="#3b8fcb"/>
<circle cx="115.50" cy="363.26" r="1.72" fill="#3b8fcb"/>
<circle cx="120.00" cy="364.57" r="1.72" fill="#3b8fcb"/>
<circle cx="124.50" cy="362.33" r="1.72" fill="#3b8fcb"/>
<circle cx="38.44" cy="389.39" r="1.72" fill="#e0385c"/>
<circle cx="43.12" cy="384.16" r="1.72" fill="#e0385c"/>
<circle cx="47.81" cy="381.36" r="1.72" fill="#e0385c"/>
<circle cx="52.12" cy="380.06" r="1.72" fill="#e0385c"/>
<circle cx="56.62" cy="380.43" r="1.72" fill="#e0385c"/>
<circle cx="61.12" cy="373.53" r="1.72" fill="#e0385c"/>
<circle cx="65.62" cy="378.19" r="1.72" fill="#e0385c"/>
<circle cx="70.12" cy="371.47" r="1.72" fill="#e0385c"/>
<path d="M34.40,401.70 L34.40,327.50 L129.70,327.50" fill="none" stroke="#444" stroke-width="1.05"/>
<path d="M34.40,401.70 L129.70,401.70 L129.70,327.50" fill="none" stroke="#555" stroke-width="1.15"/>
<line x1="31.40" y1="389.67" x2="34.40" y2="389.67" stroke="#3a3a3a" stroke-width="1.0" />
<text x="29.50" y="392.87" text-anchor="end" fill="#231f20" style="font-size:10px;font-family:'Liberation Sans', sans-serif;" >5</text>
<line x1="31.40" y1="373.34" x2="34.40" y2="373.34" stroke="#3a3a3a" stroke-width="1.0" />
<text x="29.50" y="376.54" text-anchor="end" fill="#231f20" style="font-size:10px;font-family:'Liberation Sans', sans-serif;" >10</text>
<line x1="31.40" y1="357.01" x2="34.40" y2="357.01" stroke="#3a3a3a" stroke-width="1.0" />
<text x="29.50" y="360.21" text-anchor="end" fill="#231f20" style="font-size:10px;font-family:'Liberation Sans', sans-serif;" >20</text>
<line x1="31.40" y1="340.68" x2="34.40" y2="340.68" stroke="#3a3a3a" stroke-width="1.0" />
<text x="29.50" y="343.88" text-anchor="end" fill="#231f20" style="font-size:10px;font-family:'Liberation Sans', sans-serif;" >40</text>
<line x1="32.80" y1="394.92" x2="34.40" y2="394.92" stroke="#3a3a3a" stroke-width="0.9" />
<line x1="32.80" y1="385.37" x2="34.40" y2="385.37" stroke="#3a3a3a" stroke-width="0.9" />
<line x1="32.80" y1="381.74" x2="34.40" y2="381.74" stroke="#3a3a3a" stroke-width="0.9" />
<line x1="32.80" y1="378.60" x2="34.40" y2="378.60" stroke="#3a3a3a" stroke-width="0.9" />
<line x1="32.80" y1="375.82" x2="34.40" y2="375.82" stroke="#3a3a3a" stroke-width="0.9" />
<line x1="32.80" y1="363.79" x2="34.40" y2="363.79" stroke="#3a3a3a" stroke-width="0.9" />
<line x1="32.80" y1="347.46" x2="34.40" y2="347.46" stroke="#3a3a3a" stroke-width="0.9" />
<line x1="32.80" y1="335.43" x2="34.40" y2="335.43" stroke="#3a3a3a" stroke-width="0.9" />
<line x1="32.80" y1="331.13" x2="34.40" y2="331.13" stroke="#3a3a3a" stroke-width="0.9" />
<line x1="34.50" y1="401.70" x2="34.50" y2="404.70" stroke="#555" stroke-width="1.0" />
<text x="34.50" y="414.50" text-anchor="middle" fill="#231f20" style="font-size:10px;font-family:'Liberation Sans', sans-serif;" >0</text>
<line x1="57.00" y1="401.70" x2="57.00" y2="404.70" stroke="#555" stroke-width="1.0" />
<text x="57.00" y="414.50" text-anchor="middle" fill="#231f20" style="font-size:10px;font-family:'Liberation Sans', sans-serif;" >5</text>
<line x1="79.50" y1="401.70" x2="79.50" y2="404.70" stroke="#555" stroke-width="1.0" />
<text x="79.50" y="414.50" text-anchor="middle" fill="#231f20" style="font-size:10px;font-family:'Liberation Sans', sans-serif;" >10</text>
<line x1="102.00" y1="401.70" x2="102.00" y2="404.70" stroke="#555" stroke-width="1.0" />
<text x="102.00" y="414.50" text-anchor="middle" fill="#231f20" style="font-size:10px;font-family:'Liberation Sans', sans-serif;" >15</text>
<line x1="124.50" y1="401.70" x2="124.50" y2="404.70" stroke="#555" stroke-width="1.0" />
<text x="124.50" y="414.50" text-anchor="middle" fill="#231f20" style="font-size:10px;font-family:'Liberation Sans', sans-serif;" >20</text>
<text transform="translate(83.55,424.10) scale(0.94,1)" text-anchor="middle" fill="#231f20" style="font-size:10.5px;font-family:'Liberation Sans', sans-serif;">Frequency (kHz)</text>
<text transform="translate(11.40,363.70) rotate(-90) scale(1.1,1)" x="0" y="0" text-anchor="middle" fill="#231f20" style="font-size:10.4px;font-family:'Liberation Sans', sans-serif;">v<tspan dy="2.6" style="font-size:7.6px">circum</tspan><tspan dy="-2.6" dx="0">(m/s)</tspan></text>
<text x="81.05" y="324.00" text-anchor="middle" fill="#231f20" style="font-size:11px;font-family:'Liberation Sans', sans-serif;" >λ = 1</text>
<line x1="170.30" y1="389.67" x2="265.60" y2="389.67" stroke="#b0b0b0" stroke-width="0.9" stroke-dasharray="1.3 1.35"/>
<line x1="170.30" y1="373.34" x2="265.60" y2="373.34" stroke="#b0b0b0" stroke-width="0.9" stroke-dasharray="1.3 1.35"/>
<line x1="170.30" y1="357.01" x2="265.60" y2="357.01" stroke="#b0b0b0" stroke-width="0.9" stroke-dasharray="1.3 1.35"/>
<line x1="170.30" y1="340.68" x2="265.60" y2="340.68" stroke="#b0b0b0" stroke-width="0.9" stroke-dasharray="1.3 1.35"/>
<line x1="192.90" y1="327.50" x2="192.90" y2="401.70" stroke="#bababa" stroke-width="0.9" stroke-dasharray="1.2 1.6"/>
<line x1="215.40" y1="327.50" x2="215.40" y2="401.70" stroke="#bababa" stroke-width="0.9" stroke-dasharray="1.2 1.6"/>
<line x1="237.90" y1="327.50" x2="237.90" y2="401.70" stroke="#bababa" stroke-width="0.9" stroke-dasharray="1.2 1.6"/>
<line x1="260.40" y1="327.50" x2="260.40" y2="401.70" stroke="#bababa" stroke-width="0.9" stroke-dasharray="1.2 1.6"/>
<path d="M170.40,348.15 C171.53,347.99 174.78,347.34 177.15,347.21 C179.53,347.09 182.15,347.24 184.65,347.40 C187.15,347.56 189.65,347.62 192.15,348.15 C194.65,348.68 197.15,349.55 199.65,350.57 C202.15,351.60 204.56,352.91 207.15,354.30 C209.74,355.70 212.71,357.57 215.21,358.97 C217.71,360.37 219.74,361.71 222.15,362.70 C224.56,363.70 227.03,364.38 229.65,364.94 C232.28,365.50 234.78,365.69 237.90,366.06 C241.03,366.43 244.65,366.75 248.40,367.18 C252.15,367.62 258.40,368.42 260.40,368.67" fill="none" stroke="#2bb2e6" stroke-width="1.25"/>
<path d="M170.78,401.52 C170.84,400.80 170.99,398.72 171.15,397.22 C171.31,395.73 171.34,394.58 171.71,392.56 C172.09,390.54 172.49,387.12 173.40,385.09 C174.31,383.07 175.59,381.67 177.15,380.43 C178.71,379.19 180.28,378.47 182.78,377.63 C185.28,376.79 188.71,375.95 192.15,375.39 C195.59,374.83 199.56,374.58 203.40,374.27 C207.24,373.96 209.46,373.68 215.21,373.53 C220.96,373.37 230.37,373.34 237.90,373.34 C245.43,373.34 256.65,373.49 260.40,373.53" fill="none" stroke="#ea2a92" stroke-width="1.25"/>
<line x1="192.53" y1="339.38" x2="192.53" y2="345.91" stroke="#5a9bd0" stroke-width="0.85" />
<line x1="190.43" y1="339.38" x2="194.62" y2="339.38" stroke="#5a9bd0" stroke-width="0.85" />
<line x1="190.43" y1="345.91" x2="194.62" y2="345.91" stroke="#5a9bd0" stroke-width="0.85" />
<line x1="197.03" y1="346.84" x2="197.03" y2="352.44" stroke="#5a9bd0" stroke-width="0.85" />
<line x1="194.93" y1="346.84" x2="199.12" y2="346.84" stroke="#5a9bd0" stroke-width="0.85" />
<line x1="194.93" y1="352.44" x2="199.12" y2="352.44" stroke="#5a9bd0" stroke-width="0.85" />
<line x1="206.03" y1="350.57" x2="206.03" y2="361.21" stroke="#5a9bd0" stroke-width="0.85" />
<line x1="203.93" y1="350.57" x2="208.12" y2="350.57" stroke="#5a9bd0" stroke-width="0.85" />
<line x1="203.93" y1="361.21" x2="208.12" y2="361.21" stroke="#5a9bd0" stroke-width="0.85" />
<line x1="215.03" y1="362.70" x2="215.03" y2="365.50" stroke="#5a9bd0" stroke-width="0.85" />
<line x1="212.93" y1="362.70" x2="217.12" y2="362.70" stroke="#5a9bd0" stroke-width="0.85" />
<line x1="212.93" y1="365.50" x2="217.12" y2="365.50" stroke="#5a9bd0" stroke-width="0.85" />
<line x1="206.03" y1="371.66" x2="206.03" y2="375.39" stroke="#e2506e" stroke-width="0.85" />
<line x1="203.93" y1="371.66" x2="208.12" y2="371.66" stroke="#e2506e" stroke-width="0.85" />
<line x1="203.93" y1="375.39" x2="208.12" y2="375.39" stroke="#e2506e" stroke-width="0.85" />
<circle cx="192.53" cy="342.74" r="1.72" fill="#3b8fcb"/>
<circle cx="197.03" cy="349.27" r="1.72" fill="#3b8fcb"/>
<circle cx="201.53" cy="353.00" r="1.72" fill="#3b8fcb"/>
<circle cx="206.03" cy="354.86" r="1.72" fill="#3b8fcb"/>
<circle cx="210.53" cy="357.66" r="1.72" fill="#3b8fcb"/>
<circle cx="215.03" cy="364.01" r="1.72" fill="#3b8fcb"/>
<circle cx="219.71" cy="363.08" r="1.72" fill="#3b8fcb"/>
<circle cx="224.21" cy="364.19" r="1.72" fill="#3b8fcb"/>
<circle cx="228.71" cy="366.43" r="1.72" fill="#3b8fcb"/>
<circle cx="233.40" cy="366.06" r="1.72" fill="#3b8fcb"/>
<circle cx="237.90" cy="366.06" r="1.72" fill="#3b8fcb"/>
<circle cx="242.40" cy="365.69" r="1.72" fill="#3b8fcb"/>
<circle cx="246.90" cy="365.50" r="1.72" fill="#3b8fcb"/>
<circle cx="251.40" cy="365.13" r="1.72" fill="#3b8fcb"/>
<circle cx="255.90" cy="366.06" r="1.72" fill="#3b8fcb"/>
<circle cx="260.40" cy="364.75" r="1.72" fill="#3b8fcb"/>
<circle cx="174.34" cy="385.09" r="1.72" fill="#e0385c"/>
<circle cx="179.03" cy="380.43" r="1.72" fill="#e0385c"/>
<circle cx="183.71" cy="378.56" r="1.72" fill="#e0385c"/>
<circle cx="188.03" cy="376.51" r="1.72" fill="#e0385c"/>
<circle cx="192.53" cy="375.76" r="1.72" fill="#e0385c"/>
<circle cx="197.03" cy="375.39" r="1.72" fill="#e0385c"/>
<circle cx="201.53" cy="374.27" r="1.72" fill="#e0385c"/>
<circle cx="206.03" cy="373.34" r="1.72" fill="#e0385c"/>
<circle cx="210.53" cy="373.90" r="1.72" fill="#e0385c"/>
<circle cx="215.03" cy="372.41" r="1.72" fill="#e0385c"/>
<path d="M170.30,401.70 L170.30,327.50 L265.60,327.50" fill="none" stroke="#444" stroke-width="1.05"/>
<path d="M170.30,401.70 L265.60,401.70 L265.60,327.50" fill="none" stroke="#555" stroke-width="1.15"/>
<line x1="167.30" y1="389.67" x2="170.30" y2="389.67" stroke="#3a3a3a" stroke-width="1.0" />
<text x="165.40" y="392.87" text-anchor="end" fill="#231f20" style="font-size:10px;font-family:'Liberation Sans', sans-serif;" >5</text>
<line x1="167.30" y1="373.34" x2="170.30" y2="373.34" stroke="#3a3a3a" stroke-width="1.0" />
<text x="165.40" y="376.54" text-anchor="end" fill="#231f20" style="font-size:10px;font-family:'Liberation Sans', sans-serif;" >10</text>
<line x1="167.30" y1="357.01" x2="170.30" y2="357.01" stroke="#3a3a3a" stroke-width="1.0" />
<text x="165.40" y="360.21" text-anchor="end" fill="#231f20" style="font-size:10px;font-family:'Liberation Sans', sans-serif;" >20</text>
<line x1="167.30" y1="340.68" x2="170.30" y2="340.68" stroke="#3a3a3a" stroke-width="1.0" />
<text x="165.40" y="343.88" text-anchor="end" fill="#231f20" style="font-size:10px;font-family:'Liberation Sans', sans-serif;" >40</text>
<line x1="168.70" y1="394.92" x2="170.30" y2="394.92" stroke="#3a3a3a" stroke-width="0.9" />
<line x1="168.70" y1="385.37" x2="170.30" y2="385.37" stroke="#3a3a3a" stroke-width="0.9" />
<line x1="168.70" y1="381.74" x2="170.30" y2="381.74" stroke="#3a3a3a" stroke-width="0.9" />
<line x1="168.70" y1="378.60" x2="170.30" y2="378.60" stroke="#3a3a3a" stroke-width="0.9" />
<line x1="168.70" y1="375.82" x2="170.30" y2="375.82" stroke="#3a3a3a" stroke-width="0.9" />
<line x1="168.70" y1="363.79" x2="170.30" y2="363.79" stroke="#3a3a3a" stroke-width="0.9" />
<line x1="168.70" y1="347.46" x2="170.30" y2="347.46" stroke="#3a3a3a" stroke-width="0.9" />
<line x1="168.70" y1="335.43" x2="170.30" y2="335.43" stroke="#3a3a3a" stroke-width="0.9" />
<line x1="168.70" y1="331.13" x2="170.30" y2="331.13" stroke="#3a3a3a" stroke-width="0.9" />
<line x1="170.40" y1="401.70" x2="170.40" y2="404.70" stroke="#555" stroke-width="1.0" />
<text x="170.40" y="414.50" text-anchor="middle" fill="#231f20" style="font-size:10px;font-family:'Liberation Sans', sans-serif;" >0</text>
<line x1="192.90" y1="401.70" x2="192.90" y2="404.70" stroke="#555" stroke-width="1.0" />
<text x="192.90" y="414.50" text-anchor="middle" fill="#231f20" style="font-size:10px;font-family:'Liberation Sans', sans-serif;" >5</text>
<line x1="215.40" y1="401.70" x2="215.40" y2="404.70" stroke="#555" stroke-width="1.0" />
<text x="215.40" y="414.50" text-anchor="middle" fill="#231f20" style="font-size:10px;font-family:'Liberation Sans', sans-serif;" >10</text>
<line x1="237.90" y1="401.70" x2="237.90" y2="404.70" stroke="#555" stroke-width="1.0" />
<text x="237.90" y="414.50" text-anchor="middle" fill="#231f20" style="font-size:10px;font-family:'Liberation Sans', sans-serif;" >15</text>
<line x1="260.40" y1="401.70" x2="260.40" y2="404.70" stroke="#555" stroke-width="1.0" />
<text x="260.40" y="414.50" text-anchor="middle" fill="#231f20" style="font-size:10px;font-family:'Liberation Sans', sans-serif;" >20</text>
<text transform="translate(219.45,424.10) scale(0.94,1)" text-anchor="middle" fill="#231f20" style="font-size:10.5px;font-family:'Liberation Sans', sans-serif;">Frequency (kHz)</text>
<text transform="translate(147.30,363.70) rotate(-90) scale(1.1,1)" x="0" y="0" text-anchor="middle" fill="#231f20" style="font-size:10.4px;font-family:'Liberation Sans', sans-serif;">v<tspan dy="2.6" style="font-size:7.6px">circum</tspan><tspan dy="-2.6" dx="0">(m/s)</tspan></text>
<text x="216.95" y="324.00" text-anchor="middle" fill="#231f20" style="font-size:11px;font-family:'Liberation Sans', sans-serif;" >λ = 1.1</text>
<line x1="306.30" y1="389.67" x2="401.60" y2="389.67" stroke="#b0b0b0" stroke-width="0.9" stroke-dasharray="1.3 1.35"/>
<line x1="306.30" y1="373.34" x2="401.60" y2="373.34" stroke="#b0b0b0" stroke-width="0.9" stroke-dasharray="1.3 1.35"/>
<line x1="306.30" y1="357.01" x2="401.60" y2="357.01" stroke="#b0b0b0" stroke-width="0.9" stroke-dasharray="1.3 1.35"/>
<line x1="306.30" y1="340.68" x2="401.60" y2="340.68" stroke="#b0b0b0" stroke-width="0.9" stroke-dasharray="1.3 1.35"/>
<line x1="328.90" y1="327.50" x2="328.90" y2="401.70" stroke="#bababa" stroke-width="0.9" stroke-dasharray="1.2 1.6"/>
<line x1="351.40" y1="327.50" x2="351.40" y2="401.70" stroke="#bababa" stroke-width="0.9" stroke-dasharray="1.2 1.6"/>
<line x1="373.90" y1="327.50" x2="373.90" y2="401.70" stroke="#bababa" stroke-width="0.9" stroke-dasharray="1.2 1.6"/>
<line x1="396.40" y1="327.50" x2="396.40" y2="401.70" stroke="#bababa" stroke-width="0.9" stroke-dasharray="1.2 1.6"/>
<path d="M306.40,336.02 C307.53,336.02 310.78,335.77 313.15,336.02 C315.53,336.27 318.15,336.86 320.65,337.51 C323.15,338.16 325.03,339.10 328.15,339.94 C331.28,340.78 335.56,341.71 339.40,342.55 C343.24,343.39 347.15,344.10 351.21,344.97 C355.28,345.85 359.99,346.69 363.78,347.77 C367.56,348.86 370.46,350.20 373.90,351.51 C377.34,352.81 380.65,354.37 384.40,355.61 C388.15,356.86 394.40,358.41 396.40,358.97" fill="none" stroke="#2bb2e6" stroke-width="1.25"/>
<path d="M306.78,401.52 C306.81,400.80 306.87,398.87 306.96,397.22 C307.06,395.58 307.09,393.65 307.34,391.63 C307.59,389.60 307.81,387.12 308.46,385.09 C309.12,383.07 309.87,380.99 311.28,379.50 C312.68,378.00 314.71,377.01 316.90,376.14 C319.09,375.27 321.28,374.89 324.40,374.27 C327.53,373.65 331.18,372.93 335.65,372.41 C340.12,371.88 345.59,371.47 351.21,371.10 C356.84,370.73 364.18,370.20 369.40,370.17 C374.62,370.14 378.03,370.66 382.53,370.91 C387.03,371.16 394.09,371.53 396.40,371.66" fill="none" stroke="#ea2a92" stroke-width="1.25"/>
<line x1="360.21" y1="342.18" x2="360.21" y2="346.28" stroke="#5a9bd0" stroke-width="0.85" />
<line x1="358.11" y1="342.18" x2="362.31" y2="342.18" stroke="#5a9bd0" stroke-width="0.85" />
<line x1="358.11" y1="346.28" x2="362.31" y2="346.28" stroke="#5a9bd0" stroke-width="0.85" />
<line x1="364.71" y1="343.11" x2="364.71" y2="348.71" stroke="#5a9bd0" stroke-width="0.85" />
<line x1="362.61" y1="343.11" x2="366.81" y2="343.11" stroke="#5a9bd0" stroke-width="0.85" />
<line x1="362.61" y1="348.71" x2="366.81" y2="348.71" stroke="#5a9bd0" stroke-width="0.85" />
<line x1="396.40" y1="358.97" x2="396.40" y2="364.57" stroke="#5a9bd0" stroke-width="0.85" />
<line x1="394.30" y1="358.97" x2="398.50" y2="358.97" stroke="#5a9bd0" stroke-width="0.85" />
<line x1="394.30" y1="364.57" x2="398.50" y2="364.57" stroke="#5a9bd0" stroke-width="0.85" />
<circle cx="355.71" cy="342.74" r="1.72" fill="#3b8fcb"/>
<circle cx="360.21" cy="344.04" r="1.72" fill="#3b8fcb"/>
<circle cx="364.71" cy="345.91" r="1.72" fill="#3b8fcb"/>
<circle cx="369.40" cy="352.07" r="1.72" fill="#3b8fcb"/>
<circle cx="373.90" cy="357.48" r="1.72" fill="#3b8fcb"/>
<circle cx="378.40" cy="358.60" r="1.72" fill="#3b8fcb"/>
<circle cx="382.90" cy="358.97" r="1.72" fill="#3b8fcb"/>
<circle cx="387.40" cy="358.60" r="1.72" fill="#3b8fcb"/>
<circle cx="391.90" cy="359.34" r="1.72" fill="#3b8fcb"/>
<circle cx="396.40" cy="361.77" r="1.72" fill="#3b8fcb"/>
<circle cx="310.34" cy="381.36" r="1.72" fill="#e0385c"/>
<circle cx="315.03" cy="377.26" r="1.72" fill="#e0385c"/>
<circle cx="319.71" cy="374.83" r="1.72" fill="#e0385c"/>
<circle cx="324.03" cy="373.53" r="1.72" fill="#e0385c"/>
<circle cx="328.53" cy="372.78" r="1.72" fill="#e0385c"/>
<circle cx="333.03" cy="372.41" r="1.72" fill="#e0385c"/>
<circle cx="337.53" cy="371.66" r="1.72" fill="#e0385c"/>
<circle cx="342.03" cy="371.66" r="1.72" fill="#e0385c"/>
<circle cx="346.53" cy="371.47" r="1.72" fill="#e0385c"/>
<circle cx="351.03" cy="370.91" r="1.72" fill="#e0385c"/>
<circle cx="355.71" cy="370.73" r="1.72" fill="#e0385c"/>
<circle cx="360.21" cy="370.54" r="1.72" fill="#e0385c"/>
<circle cx="364.71" cy="369.61" r="1.72" fill="#e0385c"/>
<circle cx="369.40" cy="369.23" r="1.72" fill="#e0385c"/>
<path d="M306.30,401.70 L306.30,327.50 L401.60,327.50" fill="none" stroke="#444" stroke-width="1.05"/>
<path d="M306.30,401.70 L401.60,401.70 L401.60,327.50" fill="none" stroke="#555" stroke-width="1.15"/>
<line x1="303.30" y1="389.67" x2="306.30" y2="389.67" stroke="#3a3a3a" stroke-width="1.0" />
<text x="301.40" y="392.87" text-anchor="end" fill="#231f20" style="font-size:10px;font-family:'Liberation Sans', sans-serif;" >5</text>
<line x1="303.30" y1="373.34" x2="306.30" y2="373.34" stroke="#3a3a3a" stroke-width="1.0" />
<text x="301.40" y="376.54" text-anchor="end" fill="#231f20" style="font-size:10px;font-family:'Liberation Sans', sans-serif;" >10</text>
<line x1="303.30" y1="357.01" x2="306.30" y2="357.01" stroke="#3a3a3a" stroke-width="1.0" />
<text x="301.40" y="360.21" text-anchor="end" fill="#231f20" style="font-size:10px;font-family:'Liberation Sans', sans-serif;" >20</text>
<line x1="303.30" y1="340.68" x2="306.30" y2="340.68" stroke="#3a3a3a" stroke-width="1.0" />
<text x="301.40" y="343.88" text-anchor="end" fill="#231f20" style="font-size:10px;font-family:'Liberation Sans', sans-serif;" >40</text>
<line x1="304.70" y1="394.92" x2="306.30" y2="394.92" stroke="#3a3a3a" stroke-width="0.9" />
<line x1="304.70" y1="385.37" x2="306.30" y2="385.37" stroke="#3a3a3a" stroke-width="0.9" />
<line x1="304.70" y1="381.74" x2="306.30" y2="381.74" stroke="#3a3a3a" stroke-width="0.9" />
<line x1="304.70" y1="378.60" x2="306.30" y2="378.60" stroke="#3a3a3a" stroke-width="0.9" />
<line x1="304.70" y1="375.82" x2="306.30" y2="375.82" stroke="#3a3a3a" stroke-width="0.9" />
<line x1="304.70" y1="363.79" x2="306.30" y2="363.79" stroke="#3a3a3a" stroke-width="0.9" />
<line x1="304.70" y1="347.46" x2="306.30" y2="347.46" stroke="#3a3a3a" stroke-width="0.9" />
<line x1="304.70" y1="335.43" x2="306.30" y2="335.43" stroke="#3a3a3a" stroke-width="0.9" />
<line x1="304.70" y1="331.13" x2="306.30" y2="331.13" stroke="#3a3a3a" stroke-width="0.9" />
<line x1="306.40" y1="401.70" x2="306.40" y2="404.70" stroke="#555" stroke-width="1.0" />
<text x="306.40" y="414.50" text-anchor="middle" fill="#231f20" style="font-size:10px;font-family:'Liberation Sans', sans-serif;" >0</text>
<line x1="328.90" y1="401.70" x2="328.90" y2="404.70" stroke="#555" stroke-width="1.0" />
<text x="328.90" y="414.50" text-anchor="middle" fill="#231f20" style="font-size:10px;font-family:'Liberation Sans', sans-serif;" >5</text>
<line x1="351.40" y1="401.70" x2="351.40" y2="404.70" stroke="#555" stroke-width="1.0" />
<text x="351.40" y="414.50" text-anchor="middle" fill="#231f20" style="font-size:10px;font-family:'Liberation Sans', sans-serif;" >10</text>
<line x1="373.90" y1="401.70" x2="373.90" y2="404.70" stroke="#555" stroke-width="1.0" />
<text x="373.90" y="414.50" text-anchor="middle" fill="#231f20" style="font-size:10px;font-family:'Liberation Sans', sans-serif;" >15</text>
<line x1="396.40" y1="401.70" x2="396.40" y2="404.70" stroke="#555" stroke-width="1.0" />
<text x="396.40" y="414.50" text-anchor="middle" fill="#231f20" style="font-size:10px;font-family:'Liberation Sans', sans-serif;" >20</text>
<text transform="translate(355.45,424.10) scale(0.94,1)" text-anchor="middle" fill="#231f20" style="font-size:10.5px;font-family:'Liberation Sans', sans-serif;">Frequency (kHz)</text>
<text transform="translate(283.30,363.70) rotate(-90) scale(1.1,1)" x="0" y="0" text-anchor="middle" fill="#231f20" style="font-size:10.4px;font-family:'Liberation Sans', sans-serif;">v<tspan dy="2.6" style="font-size:7.6px">circum</tspan><tspan dy="-2.6" dx="0">(m/s)</tspan></text>
<text x="352.95" y="324.00" text-anchor="middle" fill="#231f20" style="font-size:11px;font-family:'Liberation Sans', sans-serif;" >λ = 1.2</text>
<line x1="442.40" y1="389.67" x2="537.70" y2="389.67" stroke="#b0b0b0" stroke-width="0.9" stroke-dasharray="1.3 1.35"/>
<line x1="442.40" y1="373.34" x2="537.70" y2="373.34" stroke="#b0b0b0" stroke-width="0.9" stroke-dasharray="1.3 1.35"/>
<line x1="442.40" y1="357.01" x2="537.70" y2="357.01" stroke="#b0b0b0" stroke-width="0.9" stroke-dasharray="1.3 1.35"/>
<line x1="442.40" y1="340.68" x2="537.70" y2="340.68" stroke="#b0b0b0" stroke-width="0.9" stroke-dasharray="1.3 1.35"/>
<line x1="465.00" y1="327.50" x2="465.00" y2="401.70" stroke="#bababa" stroke-width="0.9" stroke-dasharray="1.2 1.6"/>
<line x1="487.50" y1="327.50" x2="487.50" y2="401.70" stroke="#bababa" stroke-width="0.9" stroke-dasharray="1.2 1.6"/>
<line x1="510.00" y1="327.50" x2="510.00" y2="401.70" stroke="#bababa" stroke-width="0.9" stroke-dasharray="1.2 1.6"/>
<line x1="532.50" y1="327.50" x2="532.50" y2="401.70" stroke="#bababa" stroke-width="0.9" stroke-dasharray="1.2 1.6"/>
<path d="" fill="none" stroke="#2bb2e6" stroke-width="1.25"/>
<path d="M442.88,401.52 C442.89,400.33 442.91,396.85 442.97,394.43 C443.03,392.00 442.98,389.45 443.25,386.96 C443.52,384.47 443.88,381.61 444.56,379.50 C445.25,377.38 445.97,375.67 447.38,374.27 C448.78,372.87 450.81,371.88 453.00,371.10 C455.19,370.32 457.38,370.14 460.50,369.61 C463.62,369.08 467.28,368.39 471.75,367.93 C476.22,367.46 480.94,366.99 487.31,366.81 C493.69,366.62 504.47,366.65 510.00,366.81 C515.53,366.96 516.75,367.43 520.50,367.74 C524.25,368.05 530.50,368.52 532.50,368.67" fill="none" stroke="#ea2a92" stroke-width="1.25"/>
<circle cx="446.44" cy="376.70" r="1.72" fill="#e0385c"/>
<circle cx="451.12" cy="372.59" r="1.72" fill="#e0385c"/>
<circle cx="455.81" cy="370.54" r="1.72" fill="#e0385c"/>
<circle cx="460.12" cy="369.61" r="1.72" fill="#e0385c"/>
<circle cx="464.62" cy="368.86" r="1.72" fill="#e0385c"/>
<circle cx="469.12" cy="367.93" r="1.72" fill="#e0385c"/>
<circle cx="473.62" cy="367.37" r="1.72" fill="#e0385c"/>
<circle cx="478.12" cy="367.18" r="1.72" fill="#e0385c"/>
<circle cx="482.62" cy="366.81" r="1.72" fill="#e0385c"/>
<circle cx="487.12" cy="366.43" r="1.72" fill="#e0385c"/>
<circle cx="491.81" cy="366.43" r="1.72" fill="#e0385c"/>
<circle cx="496.31" cy="366.43" r="1.72" fill="#e0385c"/>
<circle cx="500.81" cy="366.43" r="1.72" fill="#e0385c"/>
<circle cx="505.50" cy="367.37" r="1.72" fill="#e0385c"/>
<circle cx="510.00" cy="366.81" r="1.72" fill="#e0385c"/>
<circle cx="514.50" cy="366.81" r="1.72" fill="#e0385c"/>
<path d="M442.40,401.70 L442.40,327.50 L537.70,327.50" fill="none" stroke="#444" stroke-width="1.05"/>
<path d="M442.40,401.70 L537.70,401.70 L537.70,327.50" fill="none" stroke="#555" stroke-width="1.15"/>
<line x1="439.40" y1="389.67" x2="442.40" y2="389.67" stroke="#3a3a3a" stroke-width="1.0" />
<text x="437.50" y="392.87" text-anchor="end" fill="#231f20" style="font-size:10px;font-family:'Liberation Sans', sans-serif;" >5</text>
<line x1="439.40" y1="373.34" x2="442.40" y2="373.34" stroke="#3a3a3a" stroke-width="1.0" />
<text x="437.50" y="376.54" text-anchor="end" fill="#231f20" style="font-size:10px;font-family:'Liberation Sans', sans-serif;" >10</text>
<line x1="439.40" y1="357.01" x2="442.40" y2="357.01" stroke="#3a3a3a" stroke-width="1.0" />
<text x="437.50" y="360.21" text-anchor="end" fill="#231f20" style="font-size:10px;font-family:'Liberation Sans', sans-serif;" >20</text>
<line x1="439.40" y1="340.68" x2="442.40" y2="340.68" stroke="#3a3a3a" stroke-width="1.0" />
<text x="437.50" y="343.88" text-anchor="end" fill="#231f20" style="font-size:10px;font-family:'Liberation Sans', sans-serif;" >40</text>
<line x1="440.80" y1="394.92" x2="442.40" y2="394.92" stroke="#3a3a3a" stroke-width="0.9" />
<line x1="440.80" y1="385.37" x2="442.40" y2="385.37" stroke="#3a3a3a" stroke-width="0.9" />
<line x1="440.80" y1="381.74" x2="442.40" y2="381.74" stroke="#3a3a3a" stroke-width="0.9" />
<line x1="440.80" y1="378.60" x2="442.40" y2="378.60" stroke="#3a3a3a" stroke-width="0.9" />
<line x1="440.80" y1="375.82" x2="442.40" y2="375.82" stroke="#3a3a3a" stroke-width="0.9" />
<line x1="440.80" y1="363.79" x2="442.40" y2="363.79" stroke="#3a3a3a" stroke-width="0.9" />
<line x1="440.80" y1="347.46" x2="442.40" y2="347.46" stroke="#3a3a3a" stroke-width="0.9" />
<line x1="440.80" y1="335.43" x2="442.40" y2="335.43" stroke="#3a3a3a" stroke-width="0.9" />
<line x1="440.80" y1="331.13" x2="442.40" y2="331.13" stroke="#3a3a3a" stroke-width="0.9" />
<line x1="442.50" y1="401.70" x2="442.50" y2="404.70" stroke="#555" stroke-width="1.0" />
<text x="442.50" y="414.50" text-anchor="middle" fill="#231f20" style="font-size:10px;font-family:'Liberation Sans', sans-serif;" >0</text>
<line x1="465.00" y1="401.70" x2="465.00" y2="404.70" stroke="#555" stroke-width="1.0" />
<text x="465.00" y="414.50" text-anchor="middle" fill="#231f20" style="font-size:10px;font-family:'Liberation Sans', sans-serif;" >5</text>
<line x1="487.50" y1="401.70" x2="487.50" y2="404.70" stroke="#555" stroke-width="1.0" />
<text x="487.50" y="414.50" text-anchor="middle" fill="#231f20" style="font-size:10px;font-family:'Liberation Sans', sans-serif;" >10</text>
<line x1="510.00" y1="401.70" x2="510.00" y2="404.70" stroke="#555" stroke-width="1.0" />
<text x="510.00" y="414.50" text-anchor="middle" fill="#231f20" style="font-size:10px;font-family:'Liberation Sans', sans-serif;" >15</text>
<line x1="532.50" y1="401.70" x2="532.50" y2="404.70" stroke="#555" stroke-width="1.0" />
<text x="532.50" y="414.50" text-anchor="middle" fill="#231f20" style="font-size:10px;font-family:'Liberation Sans', sans-serif;" >20</text>
<text transform="translate(491.55,424.10) scale(0.94,1)" text-anchor="middle" fill="#231f20" style="font-size:10.5px;font-family:'Liberation Sans', sans-serif;">Frequency (kHz)</text>
<text transform="translate(419.40,363.70) rotate(-90) scale(1.1,1)" x="0" y="0" text-anchor="middle" fill="#231f20" style="font-size:10.4px;font-family:'Liberation Sans', sans-serif;">v<tspan dy="2.6" style="font-size:7.6px">circum</tspan><tspan dy="-2.6" dx="0">(m/s)</tspan></text>
<text x="489.05" y="324.00" text-anchor="middle" fill="#231f20" style="font-size:11px;font-family:'Liberation Sans', sans-serif;" >λ = 1.3</text>
<line x1="578.50" y1="389.67" x2="673.80" y2="389.67" stroke="#b0b0b0" stroke-width="0.9" stroke-dasharray="1.3 1.35"/>
<line x1="578.50" y1="373.34" x2="673.80" y2="373.34" stroke="#b0b0b0" stroke-width="0.9" stroke-dasharray="1.3 1.35"/>
<line x1="578.50" y1="357.01" x2="673.80" y2="357.01" stroke="#b0b0b0" stroke-width="0.9" stroke-dasharray="1.3 1.35"/>
<line x1="578.50" y1="340.68" x2="673.80" y2="340.68" stroke="#b0b0b0" stroke-width="0.9" stroke-dasharray="1.3 1.35"/>
<line x1="601.10" y1="327.50" x2="601.10" y2="401.70" stroke="#bababa" stroke-width="0.9" stroke-dasharray="1.2 1.6"/>
<line x1="623.60" y1="327.50" x2="623.60" y2="401.70" stroke="#bababa" stroke-width="0.9" stroke-dasharray="1.2 1.6"/>
<line x1="646.10" y1="327.50" x2="646.10" y2="401.70" stroke="#bababa" stroke-width="0.9" stroke-dasharray="1.2 1.6"/>
<line x1="668.60" y1="327.50" x2="668.60" y2="401.70" stroke="#bababa" stroke-width="0.9" stroke-dasharray="1.2 1.6"/>
<path d="" fill="none" stroke="#2bb2e6" stroke-width="1.25"/>
<path d="M578.98,401.52 C578.99,400.18 579.01,396.23 579.07,393.49 C579.13,390.76 579.08,387.74 579.35,385.09 C579.62,382.45 579.98,379.65 580.66,377.63 C581.35,375.61 582.07,374.27 583.48,372.97 C584.88,371.66 586.91,370.70 589.10,369.79 C591.29,368.89 593.48,368.18 596.60,367.55 C599.73,366.93 603.38,366.53 607.85,366.06 C612.32,365.59 617.04,365.00 623.41,364.75 C629.79,364.51 640.57,364.60 646.10,364.57 C651.63,364.54 652.85,364.44 656.60,364.57 C660.35,364.69 666.60,365.19 668.60,365.31" fill="none" stroke="#ea2a92" stroke-width="1.25"/>
<circle cx="582.54" cy="375.39" r="1.72" fill="#e0385c"/>
<circle cx="587.23" cy="371.10" r="1.72" fill="#e0385c"/>
<circle cx="591.91" cy="368.86" r="1.72" fill="#e0385c"/>
<circle cx="596.23" cy="367.55" r="1.72" fill="#e0385c"/>
<circle cx="600.73" cy="366.06" r="1.72" fill="#e0385c"/>
<circle cx="605.23" cy="365.69" r="1.72" fill="#e0385c"/>
<circle cx="609.73" cy="365.31" r="1.72" fill="#e0385c"/>
<circle cx="614.23" cy="365.13" r="1.72" fill="#e0385c"/>
<circle cx="618.73" cy="364.75" r="1.72" fill="#e0385c"/>
<circle cx="623.23" cy="364.57" r="1.72" fill="#e0385c"/>
<circle cx="627.91" cy="364.19" r="1.72" fill="#e0385c"/>
<circle cx="632.41" cy="364.01" r="1.72" fill="#e0385c"/>
<circle cx="636.91" cy="364.19" r="1.72" fill="#e0385c"/>
<circle cx="641.60" cy="364.19" r="1.72" fill="#e0385c"/>
<circle cx="646.10" cy="364.38" r="1.72" fill="#e0385c"/>
<circle cx="650.60" cy="364.38" r="1.72" fill="#e0385c"/>
<circle cx="655.10" cy="365.31" r="1.72" fill="#e0385c"/>
<path d="M578.50,401.70 L578.50,327.50 L673.80,327.50" fill="none" stroke="#444" stroke-width="1.05"/>
<path d="M578.50,401.70 L673.80,401.70 L673.80,327.50" fill="none" stroke="#555" stroke-width="1.15"/>
<line x1="575.50" y1="389.67" x2="578.50" y2="389.67" stroke="#3a3a3a" stroke-width="1.0" />
<text x="573.60" y="392.87" text-anchor="end" fill="#231f20" style="font-size:10px;font-family:'Liberation Sans', sans-serif;" >5</text>
<line x1="575.50" y1="373.34" x2="578.50" y2="373.34" stroke="#3a3a3a" stroke-width="1.0" />
<text x="573.60" y="376.54" text-anchor="end" fill="#231f20" style="font-size:10px;font-family:'Liberation Sans', sans-serif;" >10</text>
<line x1="575.50" y1="357.01" x2="578.50" y2="357.01" stroke="#3a3a3a" stroke-width="1.0" />
<text x="573.60" y="360.21" text-anchor="end" fill="#231f20" style="font-size:10px;font-family:'Liberation Sans', sans-serif;" >20</text>
<line x1="575.50" y1="340.68" x2="578.50" y2="340.68" stroke="#3a3a3a" stroke-width="1.0" />
<text x="573.60" y="343.88" text-anchor="end" fill="#231f20" style="font-size:10px;font-family:'Liberation Sans', sans-serif;" >40</text>
<line x1="576.90" y1="394.92" x2="578.50" y2="394.92" stroke="#3a3a3a" stroke-width="0.9" />
<line x1="576.90" y1="385.37" x2="578.50" y2="385.37" stroke="#3a3a3a" stroke-width="0.9" />
<line x1="576.90" y1="381.74" x2="578.50" y2="381.74" stroke="#3a3a3a" stroke-width="0.9" />
<line x1="576.90" y1="378.60" x2="578.50" y2="378.60" stroke="#3a3a3a" stroke-width="0.9" />
<line x1="576.90" y1="375.82" x2="578.50" y2="375.82" stroke="#3a3a3a" stroke-width="0.9" />
<line x1="576.90" y1="363.79" x2="578.50" y2="363.79" stroke="#3a3a3a" stroke-width="0.9" />
<line x1="576.90" y1="347.46" x2="578.50" y2="347.46" stroke="#3a3a3a" stroke-width="0.9" />
<line x1="576.90" y1="335.43" x2="578.50" y2="335.43" stroke="#3a3a3a" stroke-width="0.9" />
<line x1="576.90" y1="331.13" x2="578.50" y2="331.13" stroke="#3a3a3a" stroke-width="0.9" />
<line x1="578.60" y1="401.70" x2="578.60" y2="404.70" stroke="#555" stroke-width="1.0" />
<text x="578.60" y="414.50" text-anchor="middle" fill="#231f20" style="font-size:10px;font-family:'Liberation Sans', sans-serif;" >0</text>
<line x1="601.10" y1="401.70" x2="601.10" y2="404.70" stroke="#555" stroke-width="1.0" />
<text x="601.10" y="414.50" text-anchor="middle" fill="#231f20" style="font-size:10px;font-family:'Liberation Sans', sans-serif;" >5</text>
<line x1="623.60" y1="401.70" x2="623.60" y2="404.70" stroke="#555" stroke-width="1.0" />
<text x="623.60" y="414.50" text-anchor="middle" fill="#231f20" style="font-size:10px;font-family:'Liberation Sans', sans-serif;" >10</text>
<line x1="646.10" y1="401.70" x2="646.10" y2="404.70" stroke="#555" stroke-width="1.0" />
<text x="646.10" y="414.50" text-anchor="middle" fill="#231f20" style="font-size:10px;font-family:'Liberation Sans', sans-serif;" >15</text>
<line x1="668.60" y1="401.70" x2="668.60" y2="404.70" stroke="#555" stroke-width="1.0" />
<text x="668.60" y="414.50" text-anchor="middle" fill="#231f20" style="font-size:10px;font-family:'Liberation Sans', sans-serif;" >20</text>
<text transform="translate(627.65,424.10) scale(0.94,1)" text-anchor="middle" fill="#231f20" style="font-size:10.5px;font-family:'Liberation Sans', sans-serif;">Frequency (kHz)</text>
<text transform="translate(555.50,363.70) rotate(-90) scale(1.1,1)" x="0" y="0" text-anchor="middle" fill="#231f20" style="font-size:10.4px;font-family:'Liberation Sans', sans-serif;">v<tspan dy="2.6" style="font-size:7.6px">circum</tspan><tspan dy="-2.6" dx="0">(m/s)</tspan></text>
<text x="625.15" y="324.00" text-anchor="middle" fill="#231f20" style="font-size:11px;font-family:'Liberation Sans', sans-serif;" >λ = 1.4</text>
</svg>
</body></html>
